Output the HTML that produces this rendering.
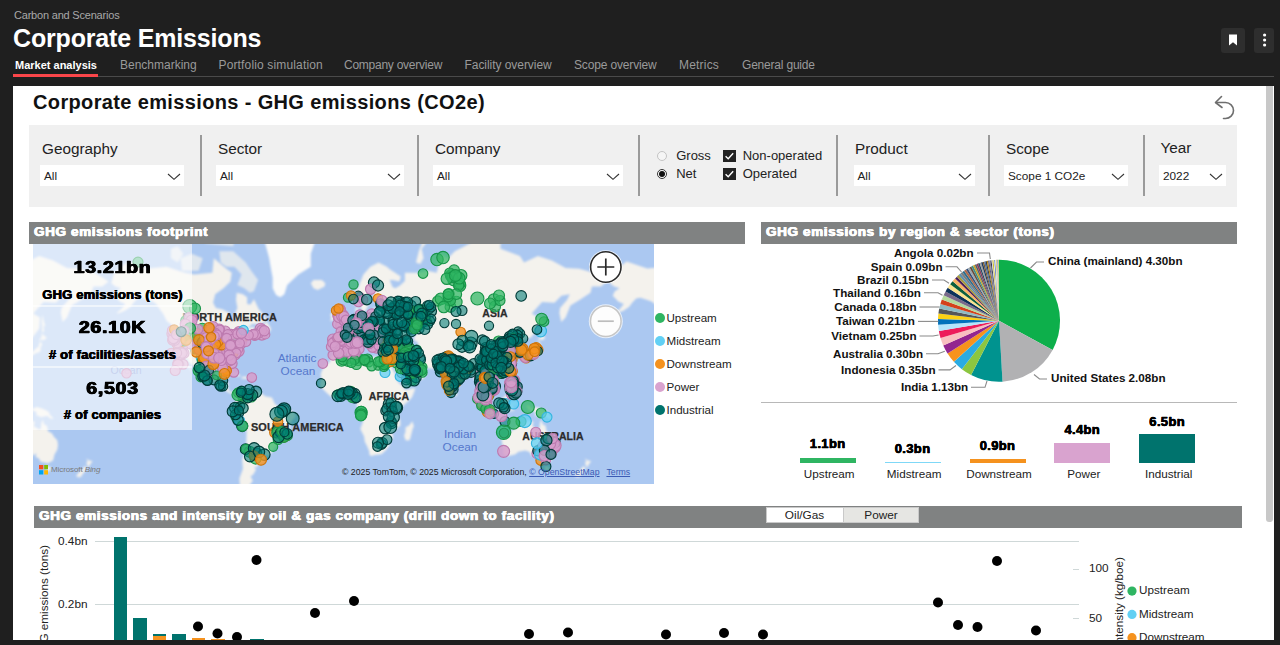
<!DOCTYPE html>
<html>
<head>
<meta charset="utf-8">
<title>Corporate Emissions</title>
<style>
*{box-sizing:border-box;margin:0;padding:0}
html,body{width:1280px;height:645px;overflow:hidden;background:#1f1f1f;font-family:"Liberation Sans",sans-serif;}
.abs{position:absolute}
.t{position:absolute;white-space:nowrap;line-height:1}
#crumb{left:14px;top:10px;font-size:11px;color:#a9a9a9;letter-spacing:-.2px}
#h1{left:13px;top:25.5px;font-size:25px;font-weight:bold;color:#fff;letter-spacing:-.17px}
.tab{position:absolute;top:58.5px;font-size:12px;color:#9a9a9a;white-space:nowrap;line-height:1}
.tab.on{color:#fff;font-weight:bold;font-size:11px;top:59.5px}
#tabline{left:14px;top:76px;width:1260px;height:1px;background:#4a4a4a}
#tabred{left:13.4px;top:74.1px;width:84.6px;height:3px;background:#fb464a}
.hbtn{position:absolute;top:27.5px;width:24px;height:25px;background:#2e2e2e;border-radius:3px;overflow:hidden}
.hbtn svg{position:absolute;left:0;top:.5px}
#panel{left:13.4px;top:85.8px;width:1260.8px;height:554.7px;background:#fff;overflow:hidden}
/* everything inside panel uses page coords via offset wrapper */
#in{position:absolute;left:-13.4px;top:-85.8px;width:1280px;height:645px}
#ptitle{left:33px;top:91.8px;font-size:20px;font-weight:bold;color:#111;letter-spacing:.36px}
#filters{left:29px;top:125px;width:1208px;height:82px;background:#f0f0f0}
.flabel{position:absolute;margin-top:1.3px;font-size:15.3px;color:#222;white-space:nowrap;line-height:1}
.dd{position:absolute;margin-top:-.6px;height:21px;background:#fff;font-size:11.8px;color:#222;line-height:22px;padding-left:4px;white-space:nowrap}
.dd svg{position:absolute;right:3px;top:7.5px}
.vdiv{position:absolute;top:135px;width:1.5px;height:61px;background:#9a9a9a;margin-left:.3px}
.shead{position:absolute;height:22px;background:#808282;color:#fff;font-weight:bold;font-size:13.5px;line-height:19px;padding-left:5px;white-space:nowrap;letter-spacing:.63px;-webkit-text-stroke:.25px #fff;text-shadow:.45px 0 0 #fff,-.45px 0 0 #fff}

.radio{position:absolute;width:10px;height:10px;border-radius:50%;border:1px solid #c4c4c4;background:#f5f5f5}
.radio.on{border-color:#333;background:#fff}
.radio.on i{position:absolute;left:1px;top:1px;width:6px;height:6px;border-radius:50%;background:#111}
.rtext{position:absolute;margin-left:-.8px;font-size:13px;color:#222;white-space:nowrap;line-height:16px}
.cb{position:absolute;width:13px;height:12px;background:#222}
.cb svg{position:absolute;left:0;top:0}
.lbl text{font:bold 10.5px "Liberation Sans",sans-serif;fill:#2b2b2b;letter-spacing:.1px;stroke:#2b2b2b;stroke-width:.25px}
.sea text{font:11.8px "Liberation Sans",sans-serif;fill:#5577cc}
.dots circle{stroke-width:1.15}
.u{fill:rgba(47,181,98,.72);stroke:#189548}
.m{fill:rgba(98,208,244,.75);stroke:#35b5e0}
.d{fill:rgba(245,146,30,.8);stroke:#cf7408}
.p{fill:rgba(214,158,203,.85);stroke:#bd7bb0}
.i{fill:rgba(0,122,115,.58);stroke:#003c39}
.kv{position:absolute;left:33px;width:159px;text-align:center;font-size:17.2px;font-weight:bold;color:#000;line-height:1;-webkit-text-stroke:.55px #000;text-shadow:.5px 0 0 #000,-.5px 0 0 #000;letter-spacing:.6px;transform:scaleX(1.14);margin-top:2.5px}
.kl{position:absolute;left:23px;width:179px;text-align:center;font-size:13px;font-weight:bold;color:#000;line-height:1;-webkit-text-stroke:.2px #000;text-shadow:.35px 0 0 #000,-.35px 0 0 #000;white-space:nowrap;letter-spacing:.2px}
.pl text{font:bold 11.65px "Liberation Sans",sans-serif;fill:#111}
.bv{position:absolute;width:100px;text-align:center;font-size:13px;font-weight:bold;color:#000;line-height:1;-webkit-text-stroke:.3px #000;text-shadow:.25px 0 0 #000,-.25px 0 0 #000;letter-spacing:.35px}
.bl{position:absolute;width:100px;text-align:center;font-size:11.7px;margin-left:1.5px;color:#222;line-height:1}
.tg{position:absolute;top:507px;height:15.5px;font-size:11.8px;line-height:16px;text-align:center;color:#222}
.ax{font-size:11.8px;color:#222;margin-top:.8px}
.rot{font-size:11.7px;color:#222;transform-origin:0 0;transform:rotate(-90deg)}
</style>
</head>
<body>
<div class="t" id="crumb">Carbon and Scenarios</div>
<div class="t" id="h1">Corporate Emissions</div>

<div class="tab on" style="left:15px">Market analysis</div>
<div class="tab" style="left:120px">Benchmarking</div>
<div class="tab" style="left:218.5px;letter-spacing:.15px">Portfolio simulation</div>
<div class="tab" style="left:344px;letter-spacing:-.25px">Company overview</div>
<div class="tab" style="left:464.5px;letter-spacing:-.05px">Facility overview</div>
<div class="tab" style="left:574px;letter-spacing:-.15px">Scope overview</div>
<div class="tab" style="left:679px;letter-spacing:.2px">Metrics</div>
<div class="tab" style="left:742px;letter-spacing:-.2px">General guide</div>
<div class="abs" id="tabline"></div>
<div class="abs" id="tabred"></div>

<div class="hbtn" style="left:1221px"><svg width="24" height="24" viewBox="0 0 24 24"><path d="M8 6.5h8v11l-4-3.2-4 3.2z" fill="#fff"/></svg></div>
<div class="hbtn" style="left:1254px;width:20px"><svg width="24" height="24" viewBox="1.4 0 24 24"><circle cx="12" cy="7" r="1.6" fill="#fff"/><circle cx="12" cy="12" r="1.6" fill="#fff"/><circle cx="12" cy="17" r="1.6" fill="#fff"/></svg></div>

<div class="abs" id="panel"><div id="in">
  <div class="t" id="ptitle">Corporate emissions - GHG emissions (CO2e)</div>
  <div class="abs" id="filters"></div>
  <div class="flabel" style="left:42px;top:140px">Geography</div><div class="dd" style="left:40px;top:166px;width:144px">All<svg width="14" height="8" viewBox="0 0 14 8"><path d="M1 1l6 5.3 6-5.3" fill="none" stroke="#333" stroke-width="1.1"/></svg></div><div class="vdiv" style="left:200px"></div><div class="flabel" style="left:218px;top:140px">Sector</div><div class="dd" style="left:216px;top:166px;width:188px">All<svg width="14" height="8" viewBox="0 0 14 8"><path d="M1 1l6 5.3 6-5.3" fill="none" stroke="#333" stroke-width="1.1"/></svg></div><div class="vdiv" style="left:417px"></div><div class="flabel" style="left:435px;top:140px">Company</div><div class="dd" style="left:433px;top:166px;width:190px">All<svg width="14" height="8" viewBox="0 0 14 8"><path d="M1 1l6 5.3 6-5.3" fill="none" stroke="#333" stroke-width="1.1"/></svg></div><div class="vdiv" style="left:638px"></div><div class="radio" style="left:657px;top:151px"></div><div class="rtext" style="left:677px;top:148px">Gross</div><div class="radio on" style="left:657px;top:169px"><i></i></div><div class="rtext" style="left:677px;top:166px">Net</div><div class="cb" style="left:723px;top:150px"><svg width="13" height="12" viewBox="0 0 13 12"><path d="M2.6 6.2l2.6 2.6 5-5.6" fill="none" stroke="#fff" stroke-width="1.4"/></svg></div><div class="rtext" style="left:743.5px;top:148px">Non-operated</div><div class="cb" style="left:723px;top:168px"><svg width="13" height="12" viewBox="0 0 13 12"><path d="M2.6 6.2l2.6 2.6 5-5.6" fill="none" stroke="#fff" stroke-width="1.4"/></svg></div><div class="rtext" style="left:743.5px;top:166px">Operated</div><div class="vdiv" style="left:836px"></div><div class="flabel" style="left:855px;top:140px">Product</div><div class="dd" style="left:853.5px;top:166px;width:121.5px">All<svg width="14" height="8" viewBox="0 0 14 8"><path d="M1 1l6 5.3 6-5.3" fill="none" stroke="#333" stroke-width="1.1"/></svg></div><div class="vdiv" style="left:988px"></div><div class="flabel" style="left:1006px;top:140px">Scope</div><div class="dd" style="left:1004px;top:166px;width:124px">Scope 1 CO2e<svg width="14" height="8" viewBox="0 0 14 8"><path d="M1 1l6 5.3 6-5.3" fill="none" stroke="#333" stroke-width="1.1"/></svg></div><div class="vdiv" style="left:1143px"></div><div class="flabel" style="left:1160.5px;top:139px">Year</div><div class="dd" style="left:1159px;top:166px;width:67px">2022<svg width="14" height="8" viewBox="0 0 14 8"><path d="M1 1l6 5.3 6-5.3" fill="none" stroke="#333" stroke-width="1.1"/></svg></div>
  <div class="shead" style="left:29px;top:222px;width:716px">GHG emissions footprint</div><svg class="abs" style="left:33px;top:243.5px" width="621" height="240" viewBox="33 243.5 621 240">
<defs><filter id="bl" x="-5%" y="-5%" width="110%" height="110%"><feGaussianBlur stdDeviation="1.1"/></filter>
<filter id="bl2"><feGaussianBlur stdDeviation="0.45"/></filter></defs>
<rect x="33" y="243.5" width="621" height="240" fill="#abc8f1"/>
<g filter="url(#bl)"><path d="M111.3 282.8L114.1 272.2L127.9 260.9L148.7 267.9L166.7 266.3L184.7 272.2L194.4 274.0L212.4 272.2L213.8 257.8L226.3 268.3L231.8 272.2L230.4 281.1L223.5 287.7L215.2 293.8L213.1 302.2L215.9 307.5L222.1 308.7L229.7 312.4L230.4 318.3L233.9 320.5L234.6 313.6L237.4 307.5L236.0 299.5L236.7 292.3L242.9 293.8L247.1 296.7L247.1 303.6L250.5 304.1L254.0 298.7L258.8 308.7L264.4 314.8L266.9 319.4L260.9 323.4L251.9 323.4L247.7 328.0L254.0 325.9L254.7 330.1L259.5 332.1L255.4 334.1L252.6 337.0L251.2 334.1L247.1 336.6L246.1 339.8L241.5 342.4L239.4 347.0L238.7 351.3L234.6 354.7L231.4 358.8L233.2 365.1L232.5 367.9L230.7 366.7L229.5 363.6L227.7 360.4L224.9 359.9L220.7 360.1L219.3 362.0L213.8 361.2L209.7 363.9L209.0 368.2L208.5 372.0L210.3 376.5L213.1 378.4L217.3 377.9L218.7 374.2L223.5 373.5L222.8 377.9L221.4 381.5L227.7 381.8L228.6 383.7L228.4 388.7L230.4 391.5L233.9 390.8L236.7 392.2L235.3 393.6L233.2 393.9L231.1 392.9L229.0 392.5L225.6 390.1L224.9 388.0L222.8 385.8L217.3 384.4L213.8 381.5L210.3 382.0L205.5 380.1L200.0 377.9L197.9 375.0L198.2 372.8L194.4 368.2L191.7 364.4L188.2 361.2L187.2 358.3L185.0 357.7L185.4 360.4L187.9 364.4L191.7 369.7L192.3 371.3L188.9 367.5L185.4 363.6L183.6 360.4L181.8 356.4L179.9 353.9L177.0 353.0L175.0 349.6L172.5 344.4L171.8 339.8L172.3 332.1L171.3 327.2L173.6 327.0L173.6 325.9L170.9 323.8L166.7 320.5L163.3 313.6L159.8 308.7L156.3 303.6L152.9 300.9L148.7 299.5L141.8 297.2L137.6 298.1L133.5 302.2L130.7 306.2L125.2 310.0L119.6 312.4L116.2 313.1L121.0 308.7L125.2 303.6L119.6 300.9L116.9 298.1L114.1 295.2L116.2 290.8L121.0 287.7L115.5 286.1ZM609.9 282.8L612.7 272.2L626.5 260.9L647.3 267.9L665.3 266.3L683.3 272.2L693.0 274.0L711.0 272.2L712.4 257.8L724.9 268.3L730.4 272.2L729.0 281.1L722.1 287.7L713.8 293.8L711.7 302.2L714.5 307.5L720.7 308.7L728.3 312.4L729.0 318.3L732.5 320.5L733.2 313.6L736.0 307.5L734.6 299.5L735.3 292.3L741.5 293.8L745.6 296.7L745.6 303.6L749.1 304.1L752.6 298.7L757.4 308.7L763.0 314.8L765.5 319.4L759.5 323.4L750.5 323.4L746.3 328.0L752.6 325.9L753.3 330.1L758.1 332.1L754.0 334.1L751.2 337.0L749.8 334.1L745.6 336.6L744.7 339.8L740.1 342.4L738.0 347.0L737.3 351.3L733.2 354.7L730.0 358.8L731.8 365.1L731.1 367.9L729.3 366.7L728.1 363.6L726.3 360.4L723.5 359.9L719.3 360.1L718.0 362.0L712.4 361.2L708.3 363.9L707.6 368.2L707.1 372.0L708.9 376.5L711.7 378.4L715.9 377.9L717.3 374.2L722.1 373.5L721.4 377.9L720.0 381.5L726.3 381.8L727.2 383.7L727.0 388.7L729.0 391.5L732.5 390.8L735.3 392.2L733.9 393.6L731.8 393.9L729.7 392.9L727.6 392.5L724.2 390.1L723.5 388.0L721.4 385.8L715.9 384.4L712.4 381.5L708.9 382.0L704.1 380.1L698.6 377.9L696.5 375.0L696.8 372.8L693.0 368.2L690.2 364.4L686.8 361.2L685.8 358.3L683.6 357.7L684.0 360.4L686.5 364.4L690.2 369.7L690.9 371.3L687.5 367.5L684.0 363.6L682.2 360.4L680.4 356.4L678.5 353.9L675.6 353.0L673.6 349.6L671.1 344.4L670.4 339.8L670.9 332.1L669.9 327.2L672.2 327.0L672.2 325.9L669.5 323.8L665.3 320.5L661.9 313.6L658.4 308.7L654.9 303.6L651.5 300.9L647.3 299.5L640.4 297.2L636.2 298.1L632.1 302.2L629.3 306.2L623.8 310.0L618.2 312.4L614.8 313.1L619.6 308.7L623.8 303.6L618.2 300.9L615.5 298.1L612.7 295.2L614.8 290.8L619.6 287.7L614.1 286.1ZM236.9 392.2L239.4 389.4L244.3 387.3L249.8 388.0L255.4 389.4L258.8 389.4L260.9 392.2L265.1 395.7L272.0 397.1L274.8 403.3L277.5 405.4L283.1 407.5L288.6 408.2L292.8 410.9L295.5 413.7L295.5 416.5L292.8 419.3L290.0 423.6L290.0 429.4L287.2 435.2L283.1 436.7L277.5 440.5L276.6 444.4L272.0 451.6L269.2 455.0L265.1 455.0L263.0 454.1L265.1 458.4L264.4 461.0L258.1 462.7L257.4 466.4L254.0 466.4L256.1 469.1L253.3 473.9L250.5 475.9L252.9 480.0L248.4 486.4L249.1 489.7L254.0 494.9L249.8 496.8L244.3 493.2L240.1 488.6L239.4 477.9L242.9 468.2L242.2 459.2L245.0 450.8L246.4 439.8L246.6 430.1L238.7 423.6L236.7 419.3L233.9 414.4L231.4 410.9L233.2 408.2L232.1 405.4L233.2 402.6L235.3 401.2L237.1 398.5L236.7 394.3ZM-167.1 348.8L-167.8 345.3L-166.8 337.9L-157.1 337.2L-156.3 332.1L-161.1 327.2L-156.7 326.6L-154.6 324.9L-151.8 321.6L-149.1 319.4L-147.7 316.4L-142.8 314.8L-143.2 307.5L-140.1 305.7L-140.8 312.4L-138.0 314.3L-135.2 314.8L-129.0 313.1L-125.5 312.4L-125.5 307.5L-121.4 306.9L-122.1 302.2L-115.8 300.9L-113.1 299.5L-122.7 299.5L-125.1 296.7L-124.8 290.8L-120.0 283.5L-124.1 281.8L-125.5 286.1L-130.4 293.8L-130.8 298.1L-128.6 300.9L-131.7 307.5L-132.7 310.0L-134.9 311.4L-136.6 311.2L-137.3 308.7L-139.1 302.2L-140.1 301.4L-143.5 304.9L-147.0 302.2L-147.7 293.8L-140.8 287.7L-135.2 274.0L-128.3 266.3L-120.0 262.1L-111.7 266.3L-108.9 268.7L-97.8 275.9L-99.2 281.1L-106.1 279.4L-108.9 279.4L-106.1 286.4L-103.4 287.7L-99.2 285.4L-93.7 280.4L-93.7 272.2L-79.8 272.2L-71.5 270.2L-61.8 272.2L-59.7 262.1L-59.0 253.2L-50.7 257.8L-43.8 250.8L-34.1 245.7L-18.9 237.6L-10.6 227.2L1.9 237.6L1.9 248.3L21.3 255.5L25.4 262.1L39.3 255.5L53.1 260.0L67.0 267.5L80.9 268.3L94.7 272.2L108.6 281.1L102.3 286.1L93.3 286.1L91.9 292.3L80.9 299.5L71.8 304.9L69.8 310.0L67.0 317.1L62.6 321.6L60.8 312.4L61.5 307.5L68.4 299.5L71.2 293.8L62.8 295.2L55.9 302.2L43.5 301.4L33.1 313.1L40.0 317.1L39.3 328.0L32.4 337.0L26.6 338.9L22.0 343.8L24.6 348.8L24.1 351.9L20.6 353.0L20.6 347.9L18.1 344.0L13.7 345.3L14.8 342.6L8.8 345.3L10.2 348.2L15.1 348.8L10.6 352.2L14.1 358.0L14.1 362.0L10.9 367.5L6.8 371.3L2.6 372.5L-1.6 373.8L-5.0 373.3L-8.1 376.5L-3.9 382.3L-3.2 387.3L-6.4 389.5L-9.2 391.9L-9.5 390.1L-12.6 387.3L-14.9 385.4L-16.1 386.5L-17.2 390.1L-15.7 392.9L-14.4 394.6L-11.4 398.5L-10.3 402.1L-11.4 402.2L-14.3 400.1L-15.7 396.4L-18.5 392.9L-18.0 390.1L-19.3 381.1L-22.6 381.8L-24.0 379.4L-25.8 375.7L-27.6 372.0L-31.3 373.1L-34.1 373.8L-36.9 376.2L-40.6 380.8L-43.5 382.3L-43.5 385.8L-44.1 389.7L-46.3 391.6L-47.3 392.9L-48.9 390.4L-51.0 385.8L-52.8 381.5L-53.8 376.9L-54.0 373.9L-57.0 374.5L-59.0 372.3L-61.4 368.5L-68.7 367.9L-75.2 367.1L-76.3 365.0L-83.3 363.9L-85.4 360.1L-88.1 360.4L-87.2 362.8L-85.1 365.9L-83.3 367.5L-83.1 369.3L-79.8 369.4L-76.6 366.7L-76.1 369.0L-73.3 370.5L-71.8 372.2L-74.5 377.2L-78.1 379.4L-82.3 381.5L-87.2 384.4L-92.3 386.1L-94.4 386.3L-95.5 383.0L-97.8 377.9L-100.6 373.5L-102.9 368.2L-106.1 363.6L-106.3 361.2L-106.8 363.6L-108.1 363.1L-109.4 360.4L-109.9 358.5L-107.2 358.3L-106.1 355.5L-104.7 350.5L-104.7 349.1L-109.6 350.3L-112.4 350.0L-115.8 349.3L-116.8 347.9L-118.2 344.5L-117.6 342.7L-114.4 341.6L-111.7 341.3L-106.1 339.8L-102.0 341.6L-97.1 340.7L-97.1 338.5L-99.9 336.4L-102.9 334.1L-101.6 331.5L-100.2 329.7L-106.1 331.5L-108.1 335.0L-109.6 333.1L-108.2 331.7L-112.1 331.1L-114.7 335.0L-116.1 338.9L-114.9 341.3L-118.2 342.0L-121.4 342.0L-123.0 342.9L-121.4 347.0L-122.7 349.6L-124.5 349.1L-125.5 345.3L-127.6 342.6L-127.6 339.8L-132.4 337.0L-135.6 333.1L-137.6 333.5L-137.3 336.0L-135.2 338.9L-132.4 340.2L-129.0 343.1L-131.1 342.6L-131.7 345.3L-132.9 347.0L-132.4 343.5L-137.3 340.7L-140.2 337.9L-142.4 335.2L-144.2 336.4L-148.4 337.2L-150.2 338.3L-150.2 340.2L-153.9 342.6L-155.0 345.3L-154.6 345.8L-157.4 349.1L-161.9 350.3L-163.3 349.5L-164.8 348.4ZM331.5 348.8L330.8 345.3L331.8 337.9L341.5 337.2L342.3 332.1L337.5 327.2L341.9 326.6L344.0 324.9L346.8 321.6L349.5 319.4L350.9 316.4L355.8 314.8L355.4 307.5L358.5 305.7L357.9 312.4L360.6 314.3L363.4 314.8L369.6 313.1L373.1 312.4L373.1 307.5L377.2 306.9L376.5 302.2L382.8 300.9L385.6 299.5L375.9 299.5L373.5 296.7L373.8 290.8L378.6 283.5L374.5 281.8L373.1 286.1L368.2 293.8L367.8 298.1L370.0 300.9L366.9 307.5L365.9 310.0L363.7 311.4L362.0 311.2L361.3 308.7L359.5 302.2L358.5 301.4L355.1 304.9L351.6 302.2L350.9 293.8L357.9 287.7L363.4 274.0L370.3 266.3L378.6 262.1L386.9 266.3L389.7 268.7L400.8 275.9L399.4 281.1L392.5 279.4L389.7 279.4L392.5 286.4L395.2 287.7L399.4 285.4L404.9 280.4L404.9 272.2L418.8 272.2L427.1 270.2L436.8 272.2L438.9 262.1L439.6 253.2L447.9 257.8L454.8 250.8L464.5 245.7L479.7 237.6L488.0 227.2L500.5 237.6L500.5 248.3L519.9 255.5L524.0 262.1L537.9 255.5L551.8 260.0L565.6 267.5L579.5 268.3L593.3 272.2L607.1 281.1L600.9 286.1L591.9 286.1L590.5 292.3L579.5 299.5L570.4 304.9L568.4 310.0L565.6 317.1L561.2 321.6L559.4 312.4L560.1 307.5L567.0 299.5L569.8 293.8L561.4 295.2L554.5 302.2L542.1 301.4L531.7 313.1L538.6 317.1L537.9 328.0L531.0 337.0L525.2 338.9L520.6 343.8L523.2 348.8L522.7 351.9L519.2 353.0L519.2 347.9L516.7 344.0L512.3 345.3L513.4 342.6L507.4 345.3L508.8 348.2L513.7 348.8L509.2 352.2L512.7 358.0L512.7 362.0L509.5 367.5L505.4 371.3L501.2 372.5L497.0 373.8L493.6 373.3L490.5 376.5L494.7 382.3L495.4 387.3L492.2 389.5L489.4 391.9L489.1 390.1L486.0 387.3L483.7 385.4L482.5 386.5L481.4 390.1L482.9 392.9L484.2 394.6L487.2 398.5L488.3 402.1L487.2 402.2L484.3 400.1L482.9 396.4L480.1 392.9L480.6 390.1L479.3 381.1L476.0 381.8L474.6 379.4L472.8 375.7L471.0 372.0L467.3 373.1L464.5 373.8L461.7 376.2L458.0 380.8L455.1 382.3L455.1 385.8L454.5 389.7L452.3 391.6L451.3 392.9L449.7 390.4L447.6 385.8L445.8 381.5L444.8 376.9L444.6 373.9L441.6 374.5L439.6 372.3L437.2 368.5L429.9 367.9L423.4 367.1L422.3 365.0L415.3 363.9L413.2 360.1L410.5 360.4L411.4 362.8L413.5 365.9L415.3 367.5L415.5 369.3L418.8 369.4L422.0 366.7L422.5 369.0L425.3 370.5L426.8 372.2L424.1 377.2L420.5 379.4L416.3 381.5L411.4 384.4L406.3 386.1L404.2 386.3L403.1 383.0L400.8 377.9L398.0 373.5L395.7 368.2L392.5 363.6L392.3 361.2L391.8 363.6L390.5 363.1L389.2 360.4L388.7 358.5L391.4 358.3L392.5 355.5L393.9 350.5L393.9 349.1L389.0 350.3L386.2 350.0L382.8 349.3L381.8 347.9L380.4 344.5L381.0 342.7L384.2 341.6L386.9 341.3L392.5 339.8L396.6 341.6L401.5 340.7L401.5 338.5L398.7 336.4L395.7 334.1L397.0 331.5L398.4 329.7L392.5 331.5L390.5 335.0L389.0 333.1L390.4 331.7L386.5 331.1L383.9 335.0L382.5 338.9L383.7 341.3L380.4 342.0L377.2 342.0L375.6 342.9L377.2 347.0L375.9 349.6L374.1 349.1L373.1 345.3L371.0 342.6L371.0 339.8L366.2 337.0L363.0 333.1L361.0 333.5L361.3 336.0L363.4 338.9L366.2 340.2L369.6 343.1L367.5 342.6L366.9 345.3L365.7 347.0L366.2 343.5L361.3 340.7L358.4 337.9L356.2 335.2L354.4 336.4L350.2 337.2L348.4 338.3L348.4 340.2L344.7 342.6L343.6 345.3L344.0 345.8L341.2 349.1L336.7 350.3L335.3 349.5L333.8 348.4ZM335.8 350.8L342.6 351.9L348.2 348.9L357.9 348.2L359.2 349.1L358.1 353.5L359.5 355.2L365.2 356.7L371.7 359.1L371.7 356.4L375.9 356.0L378.6 357.8L384.2 359.0L388.7 358.5L389.2 360.4L390.4 363.9L393.2 369.7L395.5 374.2L395.9 377.9L398.7 382.3L403.6 386.5L404.0 388.0L405.6 389.4L414.6 387.5L414.9 389.5L411.9 397.1L407.7 401.2L402.2 406.1L398.7 410.5L398.0 413.0L398.7 417.9L400.2 419.3L400.4 425.0L394.6 430.1L392.2 432.3L393.2 437.5L389.4 441.3L389.4 445.2L385.6 450.0L381.4 453.8L374.5 454.5L371.7 455.5L369.5 454.5L369.2 450.8L366.9 445.2L364.8 441.3L364.1 436.0L360.3 428.6L363.1 420.7L362.3 416.5L360.9 412.3L356.5 405.4L357.2 400.5L357.4 398.7L355.8 397.8L353.7 397.9L350.2 395.3L345.4 395.7L341.2 397.3L337.8 396.8L333.6 397.9L330.8 396.0L326.0 391.8L323.2 388.7L320.7 386.5L319.8 383.4L321.4 377.2L320.5 374.2L321.8 370.2L323.9 366.4L326.0 363.9L330.1 361.2L330.4 358.0L332.2 355.0L334.6 353.9ZM412.3 420.7L413.9 425.7L412.6 428.6L410.2 438.3L409.1 440.1L405.6 439.8L404.0 435.2L405.4 431.5L405.6 426.7L409.1 425.0ZM336.1 323.8L345.9 321.2L346.4 317.8L344.0 316.0L341.9 312.4L341.2 310.0L341.5 306.2L338.5 305.7L339.8 303.3L337.1 303.3L335.4 308.7L337.1 312.4L339.8 314.8L337.5 316.4L338.2 318.3L336.7 319.8L339.8 320.5ZM330.1 320.5L335.3 318.9L335.7 314.8L336.4 312.4L332.9 311.7L330.1 314.3L331.5 317.1ZM310.8 282.8L313.5 287.7L317.7 289.5L324.6 286.1L325.3 282.8L321.8 279.4L313.5 279.4ZM25.4 358.5L27.5 358.0L28.2 354.7L33.1 354.7L35.1 352.9L37.9 352.2L40.4 351.0L40.7 346.5L42.1 344.4L41.2 340.9L39.3 342.6L38.6 346.1L35.1 348.8L33.8 350.5L29.6 351.3L26.8 353.4L25.0 355.0ZM524.0 358.5L526.1 358.0L526.8 354.7L531.7 354.7L533.7 352.9L536.5 352.2L539.0 351.0L539.3 346.5L540.7 344.4L539.8 340.9L537.9 342.6L537.2 346.1L533.7 348.8L532.4 350.5L528.2 351.3L525.4 353.4L523.6 355.0ZM39.3 340.7L41.0 338.9L43.9 339.8L46.9 337.3L45.3 336.0L41.8 333.1L41.4 337.0L39.3 338.9ZM537.9 340.7L539.6 338.9L542.5 339.8L545.5 337.3L543.9 336.0L540.4 333.1L540.0 337.0L537.9 338.9ZM42.1 332.1L44.1 331.1L43.5 324.9L45.5 325.9L43.5 319.4L42.8 314.1L41.7 319.4L42.1 328.0ZM540.7 332.1L542.7 331.1L542.1 324.9L544.1 325.9L542.1 319.4L541.4 314.1L540.3 319.4L540.7 328.0ZM510.2 371.3L511.3 372.8L512.3 370.5L513.0 368.2L511.6 367.9ZM494.5 376.7L495.7 378.4L497.0 377.5L497.7 376.0L496.4 375.6ZM510.9 377.9L513.2 377.9L513.0 381.5L515.7 385.8L515.7 386.5L513.7 384.7L511.3 384.4L510.2 381.5ZM513.0 394.3L515.7 395.7L517.8 396.0L519.2 394.3L518.5 390.8L516.4 392.2L515.0 392.2ZM513.0 390.1L514.4 391.1L515.7 389.8L517.8 388.7L517.1 386.5L514.4 388.0ZM495.0 401.9L496.4 406.1L498.4 408.2L502.6 409.5L505.4 408.9L506.7 403.3L507.4 400.5L508.8 397.1L506.0 394.3L504.7 395.7L500.5 399.8L497.7 401.2ZM476.0 396.2L479.0 396.8L483.2 400.8L487.3 404.0L488.7 406.8L490.8 408.2L490.8 412.0L488.7 412.0L485.3 409.5L483.2 406.1L480.7 401.9L478.3 399.8ZM489.7 413.4L491.5 412.3L494.3 413.0L497.7 413.0L500.5 413.7L502.6 414.8L502.3 416.0L497.7 415.5L493.6 414.8L491.5 414.3ZM509.5 411.6L510.6 408.2L509.5 405.1L510.2 402.9L513.0 402.6L517.1 401.9L515.7 403.6L511.6 403.4L510.9 405.2L514.1 405.2L512.3 406.8L513.7 408.9L513.7 410.9L512.3 410.2L511.6 407.9L510.9 411.6ZM26.8 405.1L31.0 405.1L32.4 408.6L36.5 406.4L40.7 407.6L46.2 409.8L49.7 412.3L49.0 413.3L53.8 418.3L50.4 418.2L47.6 415.4L44.1 416.1L40.7 416.8L37.9 415.1L36.5 415.5L36.5 411.6L32.4 410.1L29.3 409.5L29.6 407.5ZM525.4 405.1L529.6 405.1L531.0 408.6L535.1 406.4L539.3 407.6L544.8 409.8L548.3 412.3L547.6 413.3L552.4 418.3L549.0 418.2L546.2 415.4L542.7 416.1L539.3 416.8L536.5 415.1L535.1 415.5L535.1 411.6L531.0 410.1L527.9 409.5L528.2 407.5ZM454.5 392.2L455.1 390.5L457.3 393.6L456.9 395.3L455.1 395.7ZM2.6 435.2L3.3 441.3L4.7 447.6L4.7 454.1L8.8 455.8L16.4 454.1L19.9 451.3L26.8 450.0L31.0 451.6L33.1 455.5L36.3 452.5L35.8 456.7L38.6 457.5L40.7 461.3L44.8 461.9L48.0 462.7L53.1 460.1L54.5 454.1L57.3 449.2L58.0 444.4L57.3 439.8L54.3 436.7L51.8 432.7L48.0 430.8L46.9 425.0L44.1 423.9L42.8 419.0L41.4 422.2L40.7 428.6L38.6 428.6L33.8 425.7L34.9 421.2L29.6 420.0L26.8 421.2L24.8 425.0L21.3 423.6L19.2 424.3L16.4 428.3L14.4 429.4L10.2 432.3L6.1 433.8ZM501.2 435.2L501.9 441.3L503.3 447.6L503.3 454.1L507.4 455.8L515.0 454.1L518.5 451.3L525.4 450.0L529.6 451.6L531.7 455.5L534.9 452.5L534.4 456.7L537.2 457.5L539.3 461.3L543.4 461.9L546.6 462.7L551.8 460.1L553.1 454.1L555.9 449.2L556.6 444.4L555.9 439.8L552.9 436.7L550.4 432.7L546.6 430.8L545.5 425.0L542.7 423.9L541.4 419.0L540.0 422.2L539.3 428.6L537.2 428.6L532.4 425.7L533.5 421.2L528.2 420.0L525.4 421.2L523.4 425.0L519.9 423.6L517.8 424.3L515.0 428.3L513.0 429.4L508.8 432.3L504.7 433.8ZM45.8 465.8L50.4 466.0L50.8 468.2L49.0 471.0L47.6 471.0L46.2 468.2ZM544.4 465.8L549.0 466.0L549.4 468.2L547.6 471.0L546.2 471.0L544.8 468.2ZM84.6 455.0L87.1 458.4L89.2 460.1L92.6 460.4L90.5 463.6L88.2 467.5L87.5 464.5L86.1 463.3L87.5 461.0L86.4 457.5ZM583.2 455.0L585.7 458.4L587.8 460.1L591.2 460.4L589.1 463.6L586.8 467.5L586.1 464.5L584.7 463.3L586.1 461.0L585.0 457.5ZM84.6 465.4L86.8 467.3L84.7 471.6L82.2 473.9L81.5 475.9L78.8 477.1L76.0 475.5L78.8 472.0L82.2 469.1ZM583.2 465.4L585.4 467.3L583.3 471.6L580.8 473.9L580.1 475.9L577.4 477.1L574.6 475.5L577.4 472.0L580.8 469.1ZM226.3 372.8L230.4 371.3L234.6 372.0L240.1 374.7L241.2 375.4L236.7 375.9L236.0 374.2L230.4 372.8ZM240.8 377.9L243.2 375.9L247.1 376.2L249.1 377.9L245.7 378.6ZM416.0 262.1L420.2 263.4L423.6 257.8L421.6 248.3L429.9 237.6L438.2 232.9L435.4 230.4L424.3 237.6L418.8 250.8ZM261.9 328.6L266.4 330.5L270.6 330.7L271.0 328.0L269.2 324.9L266.4 320.5L264.4 323.8ZM360.6 225.2L371.7 232.9L378.6 225.2L374.5 210.7L360.6 210.7Z" fill="#f4f2ed"/><path d="M242.9 225.2L252.6 237.6L263.7 237.6L269.2 257.8L270.6 266.3L272.7 277.6L272.7 287.7L276.1 294.4L280.3 296.7L284.4 293.8L287.2 284.5L298.3 274.0L310.8 266.3L310.8 253.2L316.3 237.6L316.3 210.7L302.4 182.3L260.9 182.3Z" fill="#fbfbfa"/><path d="M233.2 250.8L245.7 262.1L251.2 270.2L258.1 279.4L254.0 290.8L249.8 292.3L244.3 287.7L237.4 284.5L241.5 274.0L234.6 266.3L226.3 266.3L220.7 262.1L219.3 250.8ZM182.0 270.2L198.6 270.2L202.7 257.8L191.7 253.2L180.6 257.8ZM170.9 257.8L177.8 262.1L183.3 253.2L177.8 245.7L170.9 248.3ZM205.5 243.1L233.2 245.7L236.0 231.6L247.1 210.7L219.3 192.9L198.6 225.2Z" fill="#f4f2ed" opacity=".72"/><path d="M409.1 333.1L412.6 331.1L417.4 331.1L416.7 334.1L414.6 335.0L413.9 339.8L416.7 340.7L418.5 343.5L418.1 348.8L414.6 349.3L411.9 347.9L412.6 342.9L409.8 337.9ZM216.6 330.5L222.1 327.0L226.3 328.4L226.6 331.1L223.5 331.1L219.3 330.7ZM222.4 339.8L224.5 339.8L225.6 334.1L227.0 332.1L223.5 332.7ZM227.0 332.1L231.1 332.1L233.2 334.4L230.8 337.5L229.7 337.5L228.4 335.0ZM228.6 340.3L234.6 338.3L238.3 337.0L238.0 335.6L233.9 336.6L229.0 339.2Z" fill="#abc8f1"/></g>
<g class="lbl">
<text x="277" y="320" text-anchor="end" style="font-size:11px">NORTH AMERICA</text>
<text x="297.4" y="430.5" text-anchor="middle" style="font-size:10.9px">SOUTH AMERICA</text>
<text x="389" y="399.5" text-anchor="middle">AFRICA</text>
<text x="495" y="316" text-anchor="middle">ASIA</text>
<text x="553" y="439.5" text-anchor="middle">AUSTRALIA</text>
</g>
<g class="sea">
<text x="297" y="361" text-anchor="middle">Atlantic</text><text x="298" y="374.5" text-anchor="middle">Ocean</text>
<text x="460" y="437" text-anchor="middle">Indian</text><text x="460" y="450.5" text-anchor="middle">Ocean</text>
<text x="126" y="373.5" text-anchor="middle" style="font-size:10.5px;fill:#7b94d6">Ocean</text>
</g>
<g class="dots" filter="url(#bl2)"><circle class="u" cx="418.8" cy="365.1" r="4.6"/><circle class="u" cx="360.0" cy="358.1" r="4.6"/><circle class="u" cx="400.4" cy="348.1" r="5.3"/><circle class="u" cx="413.3" cy="364.3" r="4.7"/><circle class="u" cx="488.5" cy="394.4" r="5.5"/><circle class="u" cx="241.4" cy="391.5" r="5.5"/><circle class="u" cx="448.6" cy="299.4" r="5.5"/><circle class="u" cx="498.6" cy="340.6" r="5.1"/><circle class="u" cx="482.3" cy="362.8" r="4.6"/><circle class="u" cx="437.7" cy="300.5" r="5.1"/><circle class="u" cx="521.0" cy="421.0" r="5.0"/><circle class="u" cx="459.8" cy="285.0" r="6.0"/><circle class="u" cx="416.8" cy="349.2" r="4.6"/><circle class="u" cx="497.8" cy="367.7" r="4.6"/><circle class="u" cx="423.0" cy="273.0" r="4.8"/><circle class="u" cx="477.9" cy="398.2" r="5.3"/><circle class="u" cx="504.8" cy="342.6" r="5.2"/><circle class="u" cx="350.7" cy="391.0" r="5.2"/><circle class="u" cx="410.9" cy="358.9" r="5.2"/><circle class="u" cx="422.5" cy="321.9" r="4.7"/><circle class="u" cx="501.4" cy="352.6" r="5.2"/><circle class="u" cx="450.5" cy="306.4" r="5.4"/><circle class="u" cx="494.0" cy="299.0" r="5.8"/><circle class="u" cx="493.8" cy="357.6" r="5.0"/><circle class="u" cx="401.5" cy="354.8" r="4.6"/><circle class="u" cx="203.3" cy="358.9" r="5.5"/><circle class="u" cx="204.5" cy="373.4" r="4.6"/><circle class="p" cx="191.8" cy="317.5" r="5.2"/><circle class="p" cx="177.6" cy="362.6" r="4.6"/><circle class="p" cx="549.7" cy="445.1" r="5.1"/><circle class="p" cx="227.9" cy="339.7" r="4.8"/><circle class="u" cx="367.5" cy="358.6" r="5.1"/><circle class="u" cx="249.6" cy="451.3" r="5.5"/><circle class="p" cx="503.6" cy="450.8" r="6.0"/><circle class="u" cx="414.9" cy="366.9" r="5.4"/><circle class="p" cx="209.7" cy="351.2" r="5.4"/><circle class="p" cx="490.7" cy="375.0" r="5.5"/><circle class="p" cx="229.9" cy="353.7" r="5.4"/><circle class="u" cx="185.6" cy="320.1" r="4.8"/><circle class="u" cx="384.4" cy="363.6" r="4.9"/><circle class="p" cx="335.9" cy="342.8" r="5.6"/><circle class="p" cx="222.1" cy="355.6" r="4.9"/><circle class="u" cx="411.6" cy="379.9" r="5.3"/><circle class="p" cx="334.6" cy="341.3" r="4.8"/><circle class="p" cx="339.9" cy="309.7" r="5.6"/><circle class="u" cx="138.0" cy="261.6" r="5.0"/><circle class="p" cx="198.8" cy="337.2" r="5.1"/><circle class="p" cx="238.9" cy="330.7" r="4.7"/><circle class="p" cx="345.1" cy="327.2" r="4.8"/><circle class="p" cx="492.1" cy="383.1" r="5.4"/><circle class="p" cx="184.0" cy="339.3" r="5.6"/><circle class="p" cx="343.9" cy="341.2" r="5.1"/><circle class="u" cx="238.4" cy="392.2" r="4.9"/><circle class="u" cx="389.8" cy="354.0" r="4.6"/><circle class="p" cx="231.1" cy="334.0" r="5.1"/><circle class="u" cx="203.5" cy="371.3" r="5.1"/><circle class="u" cx="202.3" cy="327.7" r="5.0"/><circle class="p" cx="514.6" cy="386.6" r="5.8"/><circle class="p" cx="521.5" cy="347.1" r="4.8"/><circle class="u" cx="174.3" cy="337.1" r="4.9"/><circle class="p" cx="216.7" cy="356.5" r="5.4"/><circle class="p" cx="358.4" cy="341.2" r="4.8"/><circle class="p" cx="358.8" cy="348.4" r="5.3"/><circle class="p" cx="372.7" cy="336.2" r="4.9"/><circle class="p" cx="491.0" cy="385.1" r="5.4"/><circle class="u" cx="349.2" cy="357.5" r="5.5"/><circle class="p" cx="551.3" cy="452.0" r="5.4"/><circle class="u" cx="414.6" cy="314.8" r="4.8"/><circle class="p" cx="489.2" cy="378.8" r="5.8"/><circle class="u" cx="358.1" cy="360.1" r="5.0"/><circle class="u" cx="483.2" cy="359.3" r="5.2"/><circle class="d" cx="216.9" cy="352.3" r="4.8"/><circle class="p" cx="333.1" cy="354.6" r="5.1"/><circle class="p" cx="222.9" cy="369.0" r="4.8"/><circle class="d" cx="229.8" cy="357.3" r="5.2"/><circle class="p" cx="379.6" cy="332.4" r="4.7"/><circle class="u" cx="450.9" cy="274.9" r="5.5"/><circle class="m" cx="201.0" cy="357.0" r="4.8"/><circle class="p" cx="214.1" cy="332.6" r="5.5"/><circle class="p" cx="374.3" cy="332.6" r="5.6"/><circle class="p" cx="244.6" cy="336.2" r="4.9"/><circle class="p" cx="209.8" cy="361.0" r="5.2"/><circle class="u" cx="354.9" cy="357.0" r="4.8"/><circle class="u" cx="287.2" cy="435.0" r="5.2"/><circle class="m" cx="551.8" cy="446.1" r="5.8"/><circle class="d" cx="399.9" cy="349.8" r="4.8"/><circle class="u" cx="405.8" cy="360.6" r="5.0"/><circle class="d" cx="338.9" cy="317.6" r="4.9"/><circle class="u" cx="452.0" cy="274.2" r="5.5"/><circle class="u" cx="412.5" cy="364.5" r="5.4"/><circle class="u" cx="378.3" cy="365.0" r="4.7"/><circle class="p" cx="365.9" cy="317.6" r="5.6"/><circle class="u" cx="200.8" cy="376.5" r="4.8"/><circle class="p" cx="208.9" cy="353.2" r="5.4"/><circle class="p" cx="486.6" cy="396.2" r="5.3"/><circle class="u" cx="414.0" cy="313.3" r="4.5"/><circle class="m" cx="524.8" cy="420.6" r="6.5"/><circle class="p" cx="238.4" cy="347.5" r="4.8"/><circle class="u" cx="419.8" cy="322.9" r="5.0"/><circle class="p" cx="353.5" cy="330.8" r="5.6"/><circle class="d" cx="207.0" cy="353.0" r="5.2"/><circle class="p" cx="222.2" cy="352.8" r="5.5"/><circle class="p" cx="369.3" cy="320.3" r="4.5"/><circle class="p" cx="220.1" cy="360.2" r="4.5"/><circle class="u" cx="412.0" cy="356.0" r="4.6"/><circle class="p" cx="513.8" cy="385.5" r="5.4"/><circle class="d" cx="519.4" cy="352.4" r="5.2"/><circle class="p" cx="210.4" cy="357.6" r="5.1"/><circle class="u" cx="198.6" cy="345.9" r="5.1"/><circle class="p" cx="261.8" cy="334.1" r="5.5"/><circle class="m" cx="540.7" cy="330.5" r="5.8"/><circle class="p" cx="231.8" cy="345.3" r="5.4"/><circle class="d" cx="195.6" cy="346.9" r="5.4"/><circle class="p" cx="532.9" cy="353.5" r="4.8"/><circle class="p" cx="480.6" cy="376.0" r="6.0"/><circle class="u" cx="386.6" cy="349.8" r="4.9"/><circle class="u" cx="338.4" cy="393.8" r="4.7"/><circle class="p" cx="480.9" cy="379.4" r="5.1"/><circle class="p" cx="340.9" cy="324.9" r="5.2"/><circle class="p" cx="260.6" cy="328.2" r="5.5"/><circle class="p" cx="219.7" cy="355.3" r="5.1"/><circle class="u" cx="490.4" cy="412.0" r="4.6"/><circle class="p" cx="481.0" cy="388.5" r="5.5"/><circle class="u" cx="189.8" cy="306.0" r="7.0"/><circle class="p" cx="343.0" cy="314.3" r="5.0"/><circle class="u" cx="410.1" cy="355.9" r="4.6"/><circle class="u" cx="411.1" cy="355.8" r="4.9"/><circle class="d" cx="454.2" cy="365.4" r="5.0"/><circle class="u" cx="408.2" cy="360.3" r="5.4"/><circle class="p" cx="237.8" cy="332.2" r="4.6"/><circle class="u" cx="202.7" cy="360.6" r="5.4"/><circle class="p" cx="515.5" cy="388.5" r="5.2"/><circle class="p" cx="223.0" cy="345.6" r="5.3"/><circle class="p" cx="340.4" cy="308.2" r="4.5"/><circle class="p" cx="214.5" cy="357.7" r="5.5"/><circle class="u" cx="348.0" cy="297.0" r="4.6"/><circle class="p" cx="233.0" cy="339.7" r="4.9"/><circle class="u" cx="456.2" cy="301.6" r="5.9"/><circle class="u" cx="235.7" cy="416.7" r="4.6"/><circle class="p" cx="228.2" cy="357.6" r="5.6"/><circle class="u" cx="419.4" cy="308.5" r="5.0"/><circle class="p" cx="509.8" cy="382.3" r="5.1"/><circle class="p" cx="358.8" cy="341.7" r="5.2"/><circle class="p" cx="489.5" cy="375.1" r="5.7"/><circle class="d" cx="283.8" cy="436.3" r="5.3"/><circle class="d" cx="215.9" cy="343.5" r="4.8"/><circle class="d" cx="275.2" cy="431.8" r="5.6"/><circle class="p" cx="215.9" cy="348.8" r="4.9"/><circle class="p" cx="226.2" cy="362.3" r="5.3"/><circle class="u" cx="356.4" cy="364.0" r="5.0"/><circle class="p" cx="211.0" cy="344.2" r="5.5"/><circle class="d" cx="456.0" cy="382.0" r="4.9"/><circle class="p" cx="234.4" cy="338.1" r="5.4"/><circle class="u" cx="453.4" cy="279.8" r="5.5"/><circle class="i" cx="463.7" cy="374.2" r="4.6"/><circle class="u" cx="541.3" cy="412.5" r="5.0"/><circle class="i" cx="458.6" cy="359.9" r="4.5"/><circle class="u" cx="282.4" cy="433.7" r="5.6"/><circle class="p" cx="220.3" cy="335.9" r="4.6"/><circle class="p" cx="332.9" cy="338.9" r="5.4"/><circle class="p" cx="179.2" cy="363.9" r="5.0"/><circle class="p" cx="190.7" cy="325.1" r="4.5"/><circle class="d" cx="394.7" cy="346.3" r="4.8"/><circle class="p" cx="551.2" cy="444.1" r="5.3"/><circle class="p" cx="374.5" cy="327.7" r="4.6"/><circle class="i" cx="411.0" cy="305.1" r="5.3"/><circle class="u" cx="461.0" cy="274.9" r="5.9"/><circle class="u" cx="278.1" cy="439.1" r="4.9"/><circle class="i" cx="514.1" cy="388.6" r="5.0"/><circle class="i" cx="502.2" cy="353.2" r="5.0"/><circle class="i" cx="445.0" cy="371.3" r="5.2"/><circle class="p" cx="241.9" cy="340.2" r="5.0"/><circle class="m" cx="503.6" cy="431.7" r="6.5"/><circle class="m" cx="385.0" cy="372.0" r="5.0"/><circle class="i" cx="406.2" cy="377.3" r="4.6"/><circle class="i" cx="245.6" cy="448.7" r="5.3"/><circle class="i" cx="535.6" cy="348.1" r="4.5"/><circle class="p" cx="488.5" cy="382.9" r="5.1"/><circle class="i" cx="256.9" cy="452.2" r="4.7"/><circle class="p" cx="485.4" cy="391.9" r="5.4"/><circle class="i" cx="370.7" cy="329.4" r="5.3"/><circle class="p" cx="215.4" cy="343.0" r="4.9"/><circle class="d" cx="487.9" cy="380.7" r="4.7"/><circle class="i" cx="220.8" cy="385.9" r="4.8"/><circle class="p" cx="223.2" cy="350.6" r="5.2"/><circle class="p" cx="554.8" cy="447.2" r="5.3"/><circle class="p" cx="215.3" cy="362.8" r="5.4"/><circle class="p" cx="515.8" cy="387.8" r="5.6"/><circle class="p" cx="218.5" cy="333.3" r="5.4"/><circle class="i" cx="369.4" cy="338.2" r="4.7"/><circle class="i" cx="409.0" cy="346.4" r="4.8"/><circle class="p" cx="361.4" cy="336.6" r="5.2"/><circle class="i" cx="518.1" cy="330.9" r="4.6"/><circle class="i" cx="199.9" cy="369.8" r="5.0"/><circle class="i" cx="440.9" cy="368.3" r="5.1"/><circle class="i" cx="464.8" cy="367.7" r="5.3"/><circle class="i" cx="482.4" cy="339.5" r="5.2"/><circle class="i" cx="388.9" cy="403.6" r="5.6"/><circle class="u" cx="454.1" cy="269.7" r="5.3"/><circle class="d" cx="504.6" cy="403.5" r="5.0"/><circle class="i" cx="505.0" cy="421.0" r="5.0"/><circle class="i" cx="451.0" cy="392.6" r="4.5"/><circle class="u" cx="365.4" cy="360.0" r="5.3"/><circle class="i" cx="222.5" cy="380.1" r="5.2"/><circle class="i" cx="348.7" cy="324.6" r="5.3"/><circle class="u" cx="232.3" cy="344.4" r="5.0"/><circle class="i" cx="501.0" cy="352.7" r="4.6"/><circle class="u" cx="414.9" cy="312.4" r="4.7"/><circle class="u" cx="495.0" cy="306.0" r="5.5"/><circle class="p" cx="214.8" cy="344.6" r="5.1"/><circle class="p" cx="349.9" cy="342.1" r="5.5"/><circle class="p" cx="225.3" cy="330.4" r="4.9"/><circle class="i" cx="511.5" cy="371.7" r="4.6"/><circle class="i" cx="504.7" cy="353.2" r="4.7"/><circle class="i" cx="498.7" cy="353.9" r="5.0"/><circle class="i" cx="500.3" cy="345.6" r="5.3"/><circle class="p" cx="254.8" cy="334.7" r="5.3"/><circle class="p" cx="452.3" cy="388.1" r="4.7"/><circle class="u" cx="217.7" cy="359.0" r="4.5"/><circle class="p" cx="182.6" cy="346.2" r="4.9"/><circle class="i" cx="503.4" cy="369.0" r="5.1"/><circle class="i" cx="454.4" cy="374.7" r="4.8"/><circle class="i" cx="448.0" cy="356.3" r="5.0"/><circle class="i" cx="416.0" cy="377.0" r="5.2"/><circle class="p" cx="368.8" cy="341.0" r="5.6"/><circle class="i" cx="406.3" cy="327.1" r="4.6"/><circle class="p" cx="206.9" cy="352.0" r="5.3"/><circle class="p" cx="513.3" cy="387.7" r="5.9"/><circle class="p" cx="514.0" cy="380.4" r="5.9"/><circle class="p" cx="493.4" cy="389.1" r="5.8"/><circle class="u" cx="414.2" cy="369.3" r="5.1"/><circle class="u" cx="422.4" cy="313.4" r="4.7"/><circle class="u" cx="396.4" cy="362.1" r="5.3"/><circle class="i" cx="414.2" cy="380.3" r="5.2"/><circle class="p" cx="370.7" cy="320.1" r="5.0"/><circle class="u" cx="508.6" cy="349.6" r="4.8"/><circle class="i" cx="277.9" cy="429.6" r="5.7"/><circle class="i" cx="439.5" cy="366.9" r="5.4"/><circle class="u" cx="411.9" cy="319.6" r="5.2"/><circle class="p" cx="484.6" cy="399.3" r="5.5"/><circle class="i" cx="501.5" cy="372.9" r="5.1"/><circle class="m" cx="505.4" cy="402.6" r="4.6"/><circle class="p" cx="552.9" cy="442.8" r="5.4"/><circle class="p" cx="212.1" cy="328.0" r="4.6"/><circle class="p" cx="487.4" cy="383.8" r="5.0"/><circle class="u" cx="277.2" cy="432.1" r="5.4"/><circle class="i" cx="467.7" cy="368.1" r="5.1"/><circle class="i" cx="391.5" cy="422.7" r="5.4"/><circle class="p" cx="179.4" cy="349.8" r="4.9"/><circle class="i" cx="406.8" cy="341.9" r="4.6"/><circle class="u" cx="494.6" cy="360.6" r="4.8"/><circle class="p" cx="228.1" cy="335.9" r="4.5"/><circle class="p" cx="340.6" cy="354.8" r="5.2"/><circle class="i" cx="447.0" cy="375.1" r="5.2"/><circle class="i" cx="447.0" cy="356.1" r="5.2"/><circle class="i" cx="513.3" cy="334.1" r="4.8"/><circle class="d" cx="537.7" cy="349.4" r="5.3"/><circle class="p" cx="344.0" cy="339.6" r="4.6"/><circle class="d" cx="199.9" cy="346.7" r="5.6"/><circle class="m" cx="547.0" cy="416.6" r="5.0"/><circle class="i" cx="516.2" cy="340.5" r="5.4"/><circle class="i" cx="363.3" cy="323.6" r="5.4"/><circle class="p" cx="350.3" cy="334.7" r="5.4"/><circle class="i" cx="392.7" cy="337.1" r="5.3"/><circle class="p" cx="182.3" cy="340.7" r="5.4"/><circle class="u" cx="341.7" cy="360.1" r="5.6"/><circle class="u" cx="449.8" cy="272.6" r="5.1"/><circle class="p" cx="172.1" cy="333.3" r="5.2"/><circle class="u" cx="383.9" cy="366.2" r="4.8"/><circle class="p" cx="209.4" cy="358.5" r="5.0"/><circle class="p" cx="209.0" cy="349.6" r="4.8"/><circle class="i" cx="511.3" cy="363.0" r="5.3"/><circle class="d" cx="217.2" cy="358.3" r="4.8"/><circle class="p" cx="208.7" cy="335.8" r="4.8"/><circle class="i" cx="223.1" cy="385.8" r="4.6"/><circle class="p" cx="213.8" cy="341.9" r="5.3"/><circle class="i" cx="238.9" cy="412.3" r="4.8"/><circle class="p" cx="217.3" cy="334.5" r="4.7"/><circle class="p" cx="209.6" cy="340.4" r="5.3"/><circle class="i" cx="391.8" cy="327.2" r="5.4"/><circle class="i" cx="213.9" cy="379.4" r="5.0"/><circle class="i" cx="202.0" cy="370.9" r="5.0"/><circle class="u" cx="440.9" cy="298.3" r="5.8"/><circle class="d" cx="540.9" cy="459.9" r="5.0"/><circle class="i" cx="488.1" cy="375.9" r="4.6"/><circle class="p" cx="265.3" cy="334.0" r="4.5"/><circle class="i" cx="242.6" cy="395.2" r="4.6"/><circle class="u" cx="456.7" cy="276.6" r="6.0"/><circle class="p" cx="235.6" cy="348.6" r="4.8"/><circle class="p" cx="337.2" cy="323.5" r="4.6"/><circle class="i" cx="397.9" cy="345.7" r="5.4"/><circle class="i" cx="445.0" cy="357.2" r="5.0"/><circle class="i" cx="458.1" cy="370.9" r="4.7"/><circle class="i" cx="414.8" cy="368.9" r="5.3"/><circle class="d" cx="533.9" cy="353.6" r="4.9"/><circle class="u" cx="392.5" cy="345.4" r="5.0"/><circle class="i" cx="382.6" cy="306.3" r="4.8"/><circle class="i" cx="494.7" cy="385.7" r="5.8"/><circle class="p" cx="189.1" cy="317.0" r="4.9"/><circle class="p" cx="238.0" cy="351.3" r="4.9"/><circle class="i" cx="488.3" cy="383.8" r="5.7"/><circle class="i" cx="421.3" cy="368.7" r="5.1"/><circle class="p" cx="376.6" cy="347.1" r="5.6"/><circle class="i" cx="493.1" cy="366.7" r="4.6"/><circle class="p" cx="511.7" cy="393.8" r="5.2"/><circle class="i" cx="490.9" cy="357.7" r="5.4"/><circle class="i" cx="399.9" cy="345.3" r="4.8"/><circle class="p" cx="338.0" cy="314.5" r="5.3"/><circle class="i" cx="484.8" cy="405.8" r="5.4"/><circle class="i" cx="442.4" cy="357.9" r="5.1"/><circle class="u" cx="500.3" cy="361.3" r="5.3"/><circle class="i" cx="488.2" cy="378.0" r="5.2"/><circle class="i" cx="410.1" cy="311.2" r="5.0"/><circle class="u" cx="411.6" cy="363.6" r="4.6"/><circle class="i" cx="492.4" cy="371.9" r="4.6"/><circle class="d" cx="384.7" cy="351.9" r="4.7"/><circle class="u" cx="506.9" cy="341.5" r="5.5"/><circle class="d" cx="178.2" cy="346.7" r="4.7"/><circle class="d" cx="536.2" cy="347.3" r="5.1"/><circle class="i" cx="414.5" cy="355.7" r="5.2"/><circle class="i" cx="408.6" cy="323.3" r="4.8"/><circle class="i" cx="410.8" cy="355.1" r="4.9"/><circle class="u" cx="419.9" cy="324.4" r="4.8"/><circle class="d" cx="512.2" cy="359.0" r="4.9"/><circle class="u" cx="422.0" cy="366.6" r="5.0"/><circle class="i" cx="457.0" cy="378.5" r="5.3"/><circle class="i" cx="399.7" cy="301.0" r="5.1"/><circle class="p" cx="362.9" cy="324.3" r="5.0"/><circle class="d" cx="461.7" cy="374.4" r="5.2"/><circle class="i" cx="492.4" cy="371.5" r="5.3"/><circle class="i" cx="391.1" cy="421.0" r="5.1"/><circle class="i" cx="542.0" cy="447.5" r="5.2"/><circle class="d" cx="487.5" cy="411.3" r="5.3"/><circle class="i" cx="283.5" cy="409.9" r="6.0"/><circle class="i" cx="242.2" cy="425.5" r="5.6"/><circle class="d" cx="511.1" cy="372.2" r="5.3"/><circle class="p" cx="492.2" cy="376.8" r="5.6"/><circle class="p" cx="237.8" cy="334.7" r="5.5"/><circle class="p" cx="359.7" cy="296.6" r="4.7"/><circle class="i" cx="451.7" cy="359.5" r="5.2"/><circle class="i" cx="510.8" cy="356.0" r="4.9"/><circle class="d" cx="178.8" cy="350.3" r="5.3"/><circle class="p" cx="492.1" cy="375.5" r="5.1"/><circle class="u" cx="396.2" cy="349.2" r="5.0"/><circle class="i" cx="429.2" cy="308.5" r="4.7"/><circle class="d" cx="481.4" cy="402.5" r="5.3"/><circle class="d" cx="278.0" cy="421.0" r="4.8"/><circle class="d" cx="518.8" cy="350.7" r="4.5"/><circle class="i" cx="488.1" cy="363.2" r="4.5"/><circle class="i" cx="473.8" cy="363.4" r="5.2"/><circle class="u" cx="405.1" cy="356.1" r="5.3"/><circle class="p" cx="175.2" cy="331.2" r="4.7"/><circle class="p" cx="220.2" cy="342.5" r="5.1"/><circle class="i" cx="390.8" cy="333.6" r="5.1"/><circle class="u" cx="437.0" cy="259.0" r="6.2"/><circle class="p" cx="217.6" cy="361.6" r="5.1"/><circle class="p" cx="338.6" cy="337.7" r="4.7"/><circle class="i" cx="425.5" cy="318.8" r="4.7"/><circle class="d" cx="207.2" cy="343.2" r="4.8"/><circle class="d" cx="211.6" cy="345.6" r="4.7"/><circle class="d" cx="391.7" cy="359.0" r="4.8"/><circle class="i" cx="497.0" cy="363.4" r="5.4"/><circle class="p" cx="344.8" cy="320.4" r="5.5"/><circle class="i" cx="503.7" cy="361.1" r="4.9"/><circle class="m" cx="195.0" cy="348.6" r="4.8"/><circle class="i" cx="485.7" cy="347.1" r="5.1"/><circle class="i" cx="392.7" cy="319.4" r="4.9"/><circle class="u" cx="368.7" cy="361.8" r="4.6"/><circle class="u" cx="424.6" cy="309.4" r="4.8"/><circle class="u" cx="384.7" cy="363.7" r="5.6"/><circle class="i" cx="396.4" cy="348.7" r="4.6"/><circle class="i" cx="396.1" cy="407.3" r="6.5"/><circle class="p" cx="211.9" cy="347.5" r="4.9"/><circle class="i" cx="237.1" cy="406.4" r="4.6"/><circle class="p" cx="344.9" cy="336.1" r="4.9"/><circle class="i" cx="395.8" cy="331.9" r="4.6"/><circle class="i" cx="509.7" cy="340.5" r="4.7"/><circle class="p" cx="513.1" cy="381.2" r="5.9"/><circle class="p" cx="352.3" cy="331.5" r="5.3"/><circle class="u" cx="361.1" cy="412.0" r="6.1"/><circle class="u" cx="418.8" cy="369.8" r="5.6"/><circle class="m" cx="513.7" cy="403.5" r="5.0"/><circle class="p" cx="173.9" cy="333.8" r="4.6"/><circle class="i" cx="415.5" cy="301.1" r="5.1"/><circle class="i" cx="367.0" cy="333.9" r="5.0"/><circle class="i" cx="280.5" cy="432.1" r="5.0"/><circle class="p" cx="509.9" cy="382.7" r="5.1"/><circle class="i" cx="416.8" cy="363.6" r="5.1"/><circle class="i" cx="412.9" cy="314.5" r="4.7"/><circle class="p" cx="322.8" cy="363.0" r="4.8"/><circle class="i" cx="347.9" cy="391.1" r="4.9"/><circle class="i" cx="453.0" cy="380.5" r="4.5"/><circle class="i" cx="491.1" cy="354.7" r="5.5"/><circle class="p" cx="331.2" cy="346.2" r="4.8"/><circle class="p" cx="334.3" cy="340.6" r="4.6"/><circle class="d" cx="225.0" cy="371.3" r="4.8"/><circle class="u" cx="361.3" cy="411.2" r="5.5"/><circle class="i" cx="511.9" cy="348.6" r="4.9"/><circle class="p" cx="176.5" cy="343.7" r="4.5"/><circle class="i" cx="510.1" cy="342.3" r="4.6"/><circle class="i" cx="256.0" cy="391.3" r="5.7"/><circle class="d" cx="526.1" cy="357.6" r="4.8"/><circle class="d" cx="445.4" cy="367.9" r="5.2"/><circle class="i" cx="490.7" cy="364.0" r="5.0"/><circle class="p" cx="545.8" cy="459.5" r="4.8"/><circle class="i" cx="445.4" cy="366.3" r="5.2"/><circle class="p" cx="218.2" cy="346.4" r="5.5"/><circle class="u" cx="348.1" cy="360.6" r="5.3"/><circle class="u" cx="416.9" cy="325.9" r="5.3"/><circle class="i" cx="448.0" cy="363.6" r="4.6"/><circle class="i" cx="489.8" cy="361.7" r="5.3"/><circle class="u" cx="419.8" cy="314.3" r="4.7"/><circle class="p" cx="340.2" cy="315.5" r="4.8"/><circle class="p" cx="361.7" cy="320.1" r="4.5"/><circle class="i" cx="429.8" cy="320.5" r="4.9"/><circle class="p" cx="363.1" cy="321.5" r="4.6"/><circle class="i" cx="374.6" cy="319.0" r="5.0"/><circle class="p" cx="372.5" cy="346.6" r="5.2"/><circle class="p" cx="211.5" cy="344.7" r="5.2"/><circle class="p" cx="511.6" cy="372.2" r="5.1"/><circle class="i" cx="374.0" cy="282.0" r="5.6"/><circle class="i" cx="284.1" cy="408.9" r="6.6"/><circle class="d" cx="202.8" cy="357.9" r="4.7"/><circle class="u" cx="343.5" cy="358.9" r="5.6"/><circle class="u" cx="500.0" cy="300.0" r="5.0"/><circle class="u" cx="500.5" cy="362.1" r="5.0"/><circle class="i" cx="370.4" cy="327.4" r="5.2"/><circle class="p" cx="212.1" cy="327.5" r="4.6"/><circle class="u" cx="426.0" cy="320.5" r="5.2"/><circle class="i" cx="292.7" cy="418.0" r="6.4"/><circle class="u" cx="284.1" cy="434.5" r="5.7"/><circle class="u" cx="486.7" cy="386.2" r="5.5"/><circle class="i" cx="380.3" cy="323.5" r="4.9"/><circle class="i" cx="401.8" cy="362.5" r="4.9"/><circle class="p" cx="235.8" cy="333.9" r="5.2"/><circle class="p" cx="349.1" cy="335.6" r="4.8"/><circle class="p" cx="206.4" cy="331.8" r="5.1"/><circle class="p" cx="356.7" cy="340.2" r="5.5"/><circle class="u" cx="484.5" cy="376.9" r="5.2"/><circle class="i" cx="401.6" cy="342.1" r="5.1"/><circle class="i" cx="494.1" cy="413.3" r="4.5"/><circle class="d" cx="204.1" cy="357.3" r="5.2"/><circle class="p" cx="491.3" cy="383.4" r="5.7"/><circle class="i" cx="250.7" cy="394.7" r="4.5"/><circle class="i" cx="488.5" cy="391.9" r="5.8"/><circle class="i" cx="489.0" cy="325.3" r="4.6"/><circle class="i" cx="354.5" cy="393.3" r="5.5"/><circle class="d" cx="460.7" cy="331.5" r="4.8"/><circle class="i" cx="493.1" cy="349.9" r="4.9"/><circle class="p" cx="219.1" cy="329.0" r="5.5"/><circle class="p" cx="237.9" cy="339.9" r="4.6"/><circle class="i" cx="492.3" cy="364.7" r="5.5"/><circle class="i" cx="384.6" cy="344.6" r="5.2"/><circle class="u" cx="408.7" cy="354.1" r="5.3"/><circle class="i" cx="509.7" cy="336.3" r="5.4"/><circle class="i" cx="381.3" cy="443.8" r="5.1"/><circle class="p" cx="482.9" cy="378.2" r="5.3"/><circle class="i" cx="444.4" cy="322.6" r="4.6"/><circle class="i" cx="484.9" cy="351.7" r="4.8"/><circle class="i" cx="369.6" cy="317.4" r="5.1"/><circle class="u" cx="544.0" cy="321.0" r="4.8"/><circle class="p" cx="510.7" cy="383.5" r="5.9"/><circle class="i" cx="398.7" cy="349.9" r="5.0"/><circle class="u" cx="242.9" cy="394.1" r="5.6"/><circle class="i" cx="385.7" cy="410.4" r="4.9"/><circle class="i" cx="455.9" cy="363.2" r="4.6"/><circle class="i" cx="353.8" cy="318.7" r="4.8"/><circle class="p" cx="345.5" cy="351.8" r="5.3"/><circle class="i" cx="399.3" cy="303.4" r="5.3"/><circle class="i" cx="358.8" cy="334.3" r="5.3"/><circle class="d" cx="487.8" cy="395.5" r="5.4"/><circle class="i" cx="487.6" cy="365.2" r="4.8"/><circle class="p" cx="378.5" cy="345.0" r="4.6"/><circle class="u" cx="408.0" cy="349.3" r="5.0"/><circle class="p" cx="351.1" cy="354.6" r="5.0"/><circle class="p" cx="212.9" cy="326.6" r="5.5"/><circle class="u" cx="490.0" cy="356.5" r="5.2"/><circle class="u" cx="404.6" cy="371.6" r="4.8"/><circle class="i" cx="482.1" cy="359.2" r="5.2"/><circle class="p" cx="186.4" cy="323.1" r="4.6"/><circle class="u" cx="485.1" cy="407.2" r="4.7"/><circle class="i" cx="545.9" cy="466.0" r="5.0"/><circle class="i" cx="446.3" cy="372.3" r="5.0"/><circle class="d" cx="390.5" cy="361.2" r="4.9"/><circle class="p" cx="501.4" cy="415.6" r="5.5"/><circle class="i" cx="360.0" cy="330.7" r="5.1"/><circle class="i" cx="397.2" cy="329.3" r="5.2"/><circle class="i" cx="440.3" cy="365.6" r="4.8"/><circle class="p" cx="343.9" cy="319.9" r="5.0"/><circle class="u" cx="415.6" cy="319.1" r="4.9"/><circle class="p" cx="353.7" cy="343.8" r="5.2"/><circle class="d" cx="242.2" cy="337.6" r="4.6"/><circle class="i" cx="460.6" cy="362.9" r="5.2"/><circle class="u" cx="273.2" cy="446.3" r="4.5"/><circle class="d" cx="215.5" cy="337.1" r="5.0"/><circle class="p" cx="514.4" cy="386.6" r="5.3"/><circle class="p" cx="225.1" cy="360.2" r="5.1"/><circle class="p" cx="340.0" cy="312.3" r="4.6"/><circle class="i" cx="411.3" cy="328.6" r="4.9"/><circle class="i" cx="445.6" cy="362.3" r="4.8"/><circle class="i" cx="243.6" cy="395.2" r="5.4"/><circle class="p" cx="364.6" cy="317.9" r="4.6"/><circle class="i" cx="370.4" cy="324.0" r="5.2"/><circle class="p" cx="341.3" cy="335.2" r="5.1"/><circle class="i" cx="508.9" cy="351.6" r="5.3"/><circle class="d" cx="215.4" cy="343.6" r="4.8"/><circle class="p" cx="371.9" cy="313.7" r="5.4"/><circle class="i" cx="395.3" cy="312.7" r="5.4"/><circle class="p" cx="180.5" cy="354.9" r="4.9"/><circle class="u" cx="503.8" cy="355.0" r="4.7"/><circle class="i" cx="424.8" cy="316.2" r="5.2"/><circle class="p" cx="234.9" cy="342.5" r="4.9"/><circle class="p" cx="340.6" cy="330.9" r="4.5"/><circle class="i" cx="507.4" cy="348.3" r="5.0"/><circle class="p" cx="223.2" cy="343.9" r="5.4"/><circle class="i" cx="355.8" cy="324.5" r="5.3"/><circle class="u" cx="243.5" cy="397.6" r="5.5"/><circle class="d" cx="451.0" cy="357.4" r="4.7"/><circle class="d" cx="203.8" cy="343.7" r="5.1"/><circle class="i" cx="420.2" cy="357.0" r="4.8"/><circle class="i" cx="467.5" cy="369.6" r="5.0"/><circle class="u" cx="371.7" cy="365.6" r="4.8"/><circle class="i" cx="445.5" cy="360.3" r="5.0"/><circle class="p" cx="339.7" cy="309.7" r="5.3"/><circle class="i" cx="385.4" cy="321.5" r="4.5"/><circle class="i" cx="470.8" cy="342.8" r="6.3"/><circle class="d" cx="518.9" cy="347.4" r="4.6"/><circle class="i" cx="375.4" cy="316.0" r="4.6"/><circle class="d" cx="492.9" cy="382.4" r="5.5"/><circle class="i" cx="321.0" cy="382.7" r="4.6"/><circle class="i" cx="420.6" cy="359.1" r="4.9"/><circle class="p" cx="183.7" cy="352.7" r="5.3"/><circle class="p" cx="199.0" cy="348.9" r="5.1"/><circle class="p" cx="238.9" cy="350.7" r="5.2"/><circle class="i" cx="509.1" cy="345.2" r="5.2"/><circle class="p" cx="549.7" cy="453.8" r="5.3"/><circle class="u" cx="459.8" cy="283.0" r="5.4"/><circle class="i" cx="462.0" cy="346.4" r="5.4"/><circle class="i" cx="404.8" cy="325.8" r="5.3"/><circle class="i" cx="498.4" cy="364.7" r="4.9"/><circle class="d" cx="214.6" cy="362.6" r="4.6"/><circle class="u" cx="458.7" cy="285.0" r="5.1"/><circle class="p" cx="351.9" cy="353.8" r="5.3"/><circle class="i" cx="514.1" cy="393.4" r="5.8"/><circle class="u" cx="452.2" cy="276.8" r="5.4"/><circle class="u" cx="186.0" cy="335.4" r="4.6"/><circle class="i" cx="420.9" cy="321.5" r="4.7"/><circle class="d" cx="385.0" cy="342.4" r="4.9"/><circle class="p" cx="332.6" cy="342.5" r="4.9"/><circle class="p" cx="233.8" cy="371.8" r="4.9"/><circle class="p" cx="235.0" cy="347.3" r="5.2"/><circle class="p" cx="358.3" cy="329.9" r="5.0"/><circle class="p" cx="537.0" cy="453.1" r="5.1"/><circle class="d" cx="208.2" cy="344.5" r="5.5"/><circle class="u" cx="384.1" cy="361.4" r="5.4"/><circle class="i" cx="361.6" cy="332.3" r="4.8"/><circle class="p" cx="216.9" cy="352.0" r="4.9"/><circle class="i" cx="386.1" cy="311.4" r="4.7"/><circle class="i" cx="501.5" cy="365.6" r="5.1"/><circle class="i" cx="422.4" cy="322.1" r="4.9"/><circle class="u" cx="410.0" cy="370.4" r="4.7"/><circle class="i" cx="504.0" cy="432.5" r="4.8"/><circle class="i" cx="397.9" cy="300.3" r="4.7"/><circle class="i" cx="501.4" cy="349.0" r="4.8"/><circle class="p" cx="227.9" cy="333.7" r="4.6"/><circle class="i" cx="405.6" cy="322.9" r="4.6"/><circle class="p" cx="183.2" cy="363.8" r="4.9"/><circle class="p" cx="446.8" cy="379.7" r="5.0"/><circle class="i" cx="491.2" cy="356.0" r="5.1"/><circle class="i" cx="201.8" cy="369.2" r="5.6"/><circle class="i" cx="354.8" cy="397.3" r="5.3"/><circle class="p" cx="494.2" cy="389.1" r="5.6"/><circle class="p" cx="520.1" cy="349.0" r="5.0"/><circle class="i" cx="482.8" cy="358.8" r="4.6"/><circle class="p" cx="509.6" cy="348.1" r="4.7"/><circle class="i" cx="404.1" cy="360.0" r="4.7"/><circle class="i" cx="391.5" cy="348.3" r="4.8"/><circle class="d" cx="489.2" cy="410.5" r="5.1"/><circle class="i" cx="391.4" cy="406.7" r="5.0"/><circle class="u" cx="251.4" cy="396.7" r="4.8"/><circle class="d" cx="448.6" cy="355.4" r="5.1"/><circle class="i" cx="502.3" cy="350.4" r="5.3"/><circle class="i" cx="443.4" cy="366.2" r="4.6"/><circle class="i" cx="453.7" cy="384.5" r="5.0"/><circle class="p" cx="480.4" cy="375.5" r="5.1"/><circle class="p" cx="210.9" cy="369.5" r="4.7"/><circle class="p" cx="214.2" cy="348.1" r="4.8"/><circle class="u" cx="237.8" cy="394.2" r="5.8"/><circle class="i" cx="405.5" cy="301.6" r="5.0"/><circle class="u" cx="448.8" cy="293.5" r="5.4"/><circle class="i" cx="343.7" cy="393.0" r="5.6"/><circle class="p" cx="480.7" cy="390.8" r="5.9"/><circle class="u" cx="342.3" cy="356.4" r="4.8"/><circle class="i" cx="507.3" cy="366.8" r="4.8"/><circle class="i" cx="264.4" cy="454.1" r="5.7"/><circle class="m" cx="239.3" cy="420.0" r="5.2"/><circle class="d" cx="216.9" cy="346.8" r="5.3"/><circle class="i" cx="386.5" cy="329.9" r="5.4"/><circle class="p" cx="201.5" cy="336.3" r="5.0"/><circle class="p" cx="338.1" cy="316.2" r="4.9"/><circle class="p" cx="370.7" cy="288.7" r="5.2"/><circle class="i" cx="519.8" cy="333.1" r="4.9"/><circle class="u" cx="409.1" cy="360.8" r="4.6"/><circle class="p" cx="511.4" cy="387.5" r="5.6"/><circle class="i" cx="440.0" cy="371.6" r="4.7"/><circle class="i" cx="452.1" cy="368.8" r="5.1"/><circle class="p" cx="515.1" cy="387.4" r="5.5"/><circle class="i" cx="555.0" cy="442.0" r="5.2"/><circle class="i" cx="471.1" cy="372.3" r="4.5"/><circle class="p" cx="355.0" cy="352.8" r="5.2"/><circle class="i" cx="398.5" cy="347.3" r="5.1"/><circle class="u" cx="510.0" cy="340.7" r="4.9"/><circle class="u" cx="450.1" cy="299.9" r="5.4"/><circle class="i" cx="407.5" cy="301.5" r="5.0"/><circle class="i" cx="340.7" cy="395.4" r="5.6"/><circle class="u" cx="245.8" cy="448.4" r="4.5"/><circle class="p" cx="220.9" cy="354.8" r="5.2"/><circle class="d" cx="209.2" cy="346.1" r="5.1"/><circle class="p" cx="235.2" cy="354.3" r="5.1"/><circle class="i" cx="397.7" cy="359.4" r="4.7"/><circle class="p" cx="251.8" cy="377.0" r="4.8"/><circle class="i" cx="427.5" cy="305.3" r="4.9"/><circle class="p" cx="227.0" cy="338.0" r="4.7"/><circle class="i" cx="507.1" cy="348.1" r="5.1"/><circle class="i" cx="487.5" cy="377.6" r="5.6"/><circle class="i" cx="527.5" cy="355.5" r="4.7"/><circle class="p" cx="511.0" cy="384.4" r="4.9"/><circle class="u" cx="383.8" cy="364.5" r="4.5"/><circle class="i" cx="485.7" cy="357.9" r="4.6"/><circle class="u" cx="448.2" cy="296.3" r="5.1"/><circle class="i" cx="537.9" cy="450.3" r="5.1"/><circle class="p" cx="487.6" cy="373.6" r="6.0"/><circle class="i" cx="406.7" cy="348.2" r="4.5"/><circle class="p" cx="174.1" cy="330.3" r="4.7"/><circle class="u" cx="235.0" cy="343.0" r="4.6"/><circle class="p" cx="553.4" cy="443.2" r="5.1"/><circle class="i" cx="496.2" cy="352.0" r="4.8"/><circle class="i" cx="384.1" cy="347.8" r="4.6"/><circle class="i" cx="447.6" cy="385.8" r="4.7"/><circle class="d" cx="529.2" cy="355.1" r="5.0"/><circle class="i" cx="382.2" cy="442.4" r="5.3"/><circle class="d" cx="486.3" cy="407.6" r="4.5"/><circle class="p" cx="344.1" cy="339.0" r="5.3"/><circle class="u" cx="490.0" cy="303.0" r="5.5"/><circle class="u" cx="283.9" cy="436.8" r="5.1"/><circle class="i" cx="531.4" cy="353.2" r="5.3"/><circle class="i" cx="374.6" cy="334.1" r="5.3"/><circle class="d" cx="535.4" cy="350.7" r="5.2"/><circle class="i" cx="491.2" cy="387.4" r="4.7"/><circle class="p" cx="489.8" cy="388.0" r="4.8"/><circle class="i" cx="450.1" cy="360.7" r="5.3"/><circle class="p" cx="525.4" cy="356.7" r="5.4"/><circle class="i" cx="364.0" cy="339.0" r="4.6"/><circle class="d" cx="197.7" cy="333.8" r="5.6"/><circle class="u" cx="352.6" cy="396.2" r="5.8"/><circle class="i" cx="455.4" cy="361.0" r="4.8"/><circle class="u" cx="406.5" cy="355.8" r="5.4"/><circle class="u" cx="498.2" cy="356.6" r="5.0"/><circle class="u" cx="364.5" cy="359.3" r="5.1"/><circle class="i" cx="517.0" cy="390.9" r="4.9"/><circle class="i" cx="387.0" cy="439.1" r="4.9"/><circle class="p" cx="180.7" cy="352.1" r="5.0"/><circle class="i" cx="451.3" cy="385.0" r="5.0"/><circle class="d" cx="393.9" cy="341.5" r="4.9"/><circle class="p" cx="486.7" cy="401.2" r="5.2"/><circle class="u" cx="413.0" cy="313.4" r="4.8"/><circle class="p" cx="486.5" cy="376.1" r="5.4"/><circle class="i" cx="506.2" cy="370.3" r="5.4"/><circle class="p" cx="219.5" cy="329.1" r="4.5"/><circle class="i" cx="453.5" cy="389.0" r="4.6"/><circle class="i" cx="281.0" cy="411.1" r="6.4"/><circle class="i" cx="358.0" cy="327.9" r="5.2"/><circle class="p" cx="340.4" cy="351.2" r="5.4"/><circle class="i" cx="487.7" cy="348.7" r="5.7"/><circle class="u" cx="401.8" cy="344.7" r="4.6"/><circle class="p" cx="486.9" cy="375.0" r="5.4"/><circle class="u" cx="408.8" cy="352.9" r="4.6"/><circle class="i" cx="374.9" cy="334.5" r="5.2"/><circle class="p" cx="488.9" cy="376.2" r="5.5"/><circle class="p" cx="348.7" cy="327.1" r="5.4"/><circle class="i" cx="375.8" cy="335.1" r="4.7"/><circle class="i" cx="278.6" cy="436.4" r="5.7"/><circle class="u" cx="412.9" cy="322.6" r="5.4"/><circle class="p" cx="253.5" cy="333.7" r="4.9"/><circle class="u" cx="443.0" cy="257.0" r="6.2"/><circle class="p" cx="231.8" cy="362.9" r="5.3"/><circle class="i" cx="537.9" cy="350.7" r="4.5"/><circle class="p" cx="339.2" cy="316.7" r="5.5"/><circle class="i" cx="379.7" cy="319.9" r="4.7"/><circle class="i" cx="499.7" cy="364.0" r="4.5"/><circle class="i" cx="393.0" cy="321.3" r="4.6"/><circle class="u" cx="506.1" cy="355.7" r="4.9"/><circle class="p" cx="354.2" cy="322.6" r="5.0"/><circle class="u" cx="185.0" cy="340.2" r="5.3"/><circle class="i" cx="523.2" cy="338.1" r="4.6"/><circle class="p" cx="347.7" cy="344.3" r="4.9"/><circle class="d" cx="232.9" cy="352.3" r="5.2"/><circle class="u" cx="255.6" cy="458.0" r="5.6"/><circle class="p" cx="481.6" cy="401.5" r="5.5"/><circle class="p" cx="254.3" cy="334.0" r="5.3"/><circle class="u" cx="500.8" cy="372.1" r="5.1"/><circle class="u" cx="417.3" cy="364.7" r="4.7"/><circle class="u" cx="409.3" cy="314.8" r="5.3"/><circle class="u" cx="422.3" cy="371.9" r="4.8"/><circle class="i" cx="504.2" cy="356.9" r="5.3"/><circle class="i" cx="496.2" cy="344.9" r="5.2"/><circle class="i" cx="373.1" cy="330.6" r="5.4"/><circle class="u" cx="422.1" cy="314.9" r="5.2"/><circle class="u" cx="477.4" cy="298.0" r="6.5"/><circle class="i" cx="499.8" cy="371.0" r="4.6"/><circle class="u" cx="380.5" cy="361.1" r="5.2"/><circle class="p" cx="180.0" cy="339.3" r="4.8"/><circle class="i" cx="446.3" cy="363.4" r="5.0"/><circle class="p" cx="488.6" cy="378.5" r="5.6"/><circle class="i" cx="240.2" cy="405.8" r="4.7"/><circle class="i" cx="387.8" cy="408.4" r="5.9"/><circle class="p" cx="224.4" cy="360.7" r="5.2"/><circle class="i" cx="378.0" cy="442.2" r="5.5"/><circle class="p" cx="483.8" cy="393.8" r="6.0"/><circle class="i" cx="351.9" cy="392.9" r="5.7"/><circle class="u" cx="481.9" cy="404.8" r="5.3"/><circle class="u" cx="456.3" cy="293.7" r="5.3"/><circle class="u" cx="217.0" cy="375.0" r="4.5"/><circle class="p" cx="233.6" cy="338.7" r="5.1"/><circle class="p" cx="191.6" cy="320.0" r="5.5"/><circle class="u" cx="194.8" cy="336.9" r="4.8"/><circle class="u" cx="409.5" cy="348.1" r="5.3"/><circle class="i" cx="396.3" cy="341.4" r="5.0"/><circle class="p" cx="241.6" cy="343.3" r="4.6"/><circle class="p" cx="226.8" cy="350.2" r="5.1"/><circle class="i" cx="501.5" cy="347.7" r="5.3"/><circle class="p" cx="185.4" cy="323.7" r="5.2"/><circle class="p" cx="178.2" cy="363.0" r="4.6"/><circle class="d" cx="378.0" cy="298.0" r="4.8"/><circle class="i" cx="456.0" cy="323.4" r="4.6"/><circle class="p" cx="353.6" cy="352.0" r="4.5"/><circle class="u" cx="415.0" cy="312.7" r="5.2"/><circle class="i" cx="487.5" cy="385.3" r="5.9"/><circle class="p" cx="190.7" cy="343.8" r="4.6"/><circle class="i" cx="391.1" cy="402.5" r="5.2"/><circle class="p" cx="177.3" cy="342.4" r="4.8"/><circle class="p" cx="205.5" cy="335.0" r="5.1"/><circle class="i" cx="517.3" cy="334.7" r="5.1"/><circle class="i" cx="439.2" cy="358.5" r="5.0"/><circle class="i" cx="510.1" cy="366.5" r="5.0"/><circle class="i" cx="486.6" cy="351.9" r="5.5"/><circle class="i" cx="368.8" cy="341.5" r="4.8"/><circle class="i" cx="508.0" cy="340.2" r="5.3"/><circle class="i" cx="500.0" cy="358.2" r="5.0"/><circle class="u" cx="483.5" cy="370.9" r="4.6"/><circle class="u" cx="406.1" cy="354.5" r="5.0"/><circle class="i" cx="504.6" cy="407.8" r="5.4"/><circle class="d" cx="336.0" cy="310.0" r="4.6"/><circle class="i" cx="437.4" cy="361.7" r="4.7"/><circle class="u" cx="415.4" cy="326.7" r="4.6"/><circle class="i" cx="537.0" cy="329.0" r="4.8"/><circle class="i" cx="447.2" cy="374.8" r="5.0"/><circle class="i" cx="480.8" cy="366.2" r="5.1"/><circle class="i" cx="493.4" cy="372.3" r="5.1"/><circle class="i" cx="489.4" cy="352.5" r="5.4"/><circle class="i" cx="337.8" cy="395.3" r="5.8"/><circle class="i" cx="509.4" cy="342.7" r="4.6"/><circle class="p" cx="492.8" cy="388.9" r="5.2"/><circle class="i" cx="484.8" cy="380.3" r="5.5"/><circle class="p" cx="511.3" cy="382.8" r="5.7"/><circle class="p" cx="174.7" cy="339.9" r="5.0"/><circle class="u" cx="242.4" cy="425.5" r="5.2"/><circle class="u" cx="446.8" cy="278.2" r="5.7"/><circle class="i" cx="521.2" cy="295.4" r="5.3"/><circle class="p" cx="513.3" cy="384.3" r="5.7"/><circle class="u" cx="422.0" cy="317.2" r="4.8"/><circle class="i" cx="252.0" cy="394.5" r="5.7"/><circle class="p" cx="258.7" cy="332.7" r="4.9"/><circle class="u" cx="424.1" cy="316.4" r="5.0"/><circle class="u" cx="541.6" cy="318.5" r="5.8"/><circle class="p" cx="341.4" cy="339.9" r="5.0"/><circle class="p" cx="261.9" cy="329.4" r="5.1"/><circle class="i" cx="452.1" cy="385.9" r="5.4"/><circle class="d" cx="221.8" cy="344.8" r="4.6"/><circle class="p" cx="369.2" cy="342.7" r="5.4"/><circle class="i" cx="508.9" cy="350.6" r="4.5"/><circle class="p" cx="235.1" cy="345.3" r="5.3"/><circle class="u" cx="354.5" cy="359.5" r="4.5"/><circle class="i" cx="405.0" cy="334.5" r="4.8"/><circle class="u" cx="353.5" cy="284.0" r="4.6"/><circle class="i" cx="510.8" cy="357.2" r="4.7"/><circle class="p" cx="492.8" cy="384.6" r="4.9"/><circle class="p" cx="241.2" cy="335.3" r="5.5"/><circle class="p" cx="492.9" cy="379.7" r="5.4"/><circle class="i" cx="471.2" cy="369.8" r="4.7"/><circle class="i" cx="367.0" cy="339.1" r="4.9"/><circle class="i" cx="397.2" cy="313.5" r="5.1"/><circle class="i" cx="510.9" cy="389.3" r="5.8"/><circle class="i" cx="388.8" cy="308.4" r="4.7"/><circle class="u" cx="203.7" cy="376.7" r="4.6"/><circle class="i" cx="358.3" cy="295.3" r="4.6"/><circle class="d" cx="218.3" cy="340.9" r="4.8"/><circle class="u" cx="412.0" cy="373.1" r="4.7"/><circle class="i" cx="407.5" cy="364.5" r="4.6"/><circle class="p" cx="215.0" cy="333.3" r="5.6"/><circle class="p" cx="486.2" cy="384.3" r="5.7"/><circle class="i" cx="471.5" cy="336.1" r="6.3"/><circle class="p" cx="224.0" cy="360.3" r="5.5"/><circle class="i" cx="431.1" cy="310.7" r="5.4"/><circle class="u" cx="485.3" cy="362.4" r="4.9"/><circle class="p" cx="347.0" cy="350.9" r="5.4"/><circle class="i" cx="509.2" cy="339.3" r="4.6"/><circle class="i" cx="450.4" cy="379.1" r="4.9"/><circle class="u" cx="351.4" cy="362.4" r="4.6"/><circle class="p" cx="489.5" cy="377.7" r="5.5"/><circle class="i" cx="508.9" cy="366.8" r="4.6"/><circle class="u" cx="417.4" cy="316.1" r="4.9"/><circle class="u" cx="281.5" cy="430.7" r="4.6"/><circle class="i" cx="254.1" cy="447.9" r="5.8"/><circle class="u" cx="414.4" cy="359.8" r="4.7"/><circle class="i" cx="503.0" cy="363.5" r="5.1"/><circle class="i" cx="401.8" cy="372.2" r="5.1"/><circle class="p" cx="484.3" cy="393.0" r="5.4"/><circle class="i" cx="404.6" cy="362.5" r="5.0"/><circle class="i" cx="347.4" cy="334.8" r="4.9"/><circle class="i" cx="206.9" cy="379.9" r="4.6"/><circle class="i" cx="347.0" cy="322.0" r="4.6"/><circle class="d" cx="459.6" cy="377.1" r="4.7"/><circle class="i" cx="490.0" cy="357.1" r="5.3"/><circle class="u" cx="378.4" cy="361.3" r="5.0"/><circle class="u" cx="411.5" cy="322.4" r="4.6"/><circle class="i" cx="455.8" cy="363.3" r="4.7"/><circle class="p" cx="344.1" cy="320.1" r="4.8"/><circle class="i" cx="399.2" cy="313.9" r="4.7"/><circle class="u" cx="485.6" cy="408.2" r="4.8"/><circle class="u" cx="499.0" cy="295.0" r="5.5"/><circle class="d" cx="215.5" cy="337.6" r="4.6"/><circle class="i" cx="404.1" cy="312.9" r="4.5"/><circle class="i" cx="418.9" cy="328.1" r="5.2"/><circle class="i" cx="406.2" cy="379.5" r="4.9"/><circle class="p" cx="346.1" cy="328.0" r="4.8"/><circle class="i" cx="395.6" cy="306.2" r="4.9"/><circle class="i" cx="480.5" cy="363.9" r="4.7"/><circle class="u" cx="527.8" cy="406.5" r="6.5"/><circle class="i" cx="412.6" cy="325.4" r="5.4"/><circle class="i" cx="437.9" cy="363.7" r="5.3"/><circle class="p" cx="358.5" cy="301.2" r="5.0"/><circle class="i" cx="486.9" cy="391.7" r="5.6"/><circle class="i" cx="427.6" cy="323.9" r="4.9"/><circle class="i" cx="396.2" cy="313.9" r="4.9"/><circle class="p" cx="206.3" cy="365.4" r="4.8"/><circle class="i" cx="407.8" cy="313.0" r="4.6"/><circle class="i" cx="458.5" cy="368.6" r="4.6"/><circle class="i" cx="461.5" cy="367.3" r="4.6"/><circle class="m" cx="540.1" cy="454.0" r="5.6"/><circle class="i" cx="480.0" cy="381.3" r="5.6"/><circle class="i" cx="381.5" cy="305.3" r="5.2"/><circle class="u" cx="448.3" cy="293.7" r="5.2"/><circle class="i" cx="392.2" cy="410.6" r="5.1"/><circle class="i" cx="504.3" cy="356.5" r="4.6"/><circle class="i" cx="379.4" cy="320.3" r="5.1"/><circle class="p" cx="237.4" cy="333.6" r="4.6"/><circle class="i" cx="202.6" cy="342.1" r="5.6"/><circle class="i" cx="479.6" cy="379.3" r="5.0"/><circle class="i" cx="510.7" cy="340.1" r="4.8"/><circle class="p" cx="212.1" cy="332.4" r="5.2"/><circle class="p" cx="211.3" cy="348.1" r="5.0"/><circle class="u" cx="443.8" cy="306.4" r="5.8"/><circle class="p" cx="255.5" cy="334.0" r="5.2"/><circle class="u" cx="490.0" cy="389.9" r="4.7"/><circle class="u" cx="513.4" cy="337.8" r="5.3"/><circle class="i" cx="361.6" cy="325.7" r="4.7"/><circle class="i" cx="234.9" cy="407.3" r="5.4"/><circle class="p" cx="359.9" cy="314.2" r="4.9"/><circle class="i" cx="369.9" cy="333.0" r="5.3"/><circle class="p" cx="226.2" cy="362.5" r="4.9"/><circle class="p" cx="253.6" cy="333.8" r="4.6"/><circle class="u" cx="384.4" cy="359.0" r="5.1"/><circle class="p" cx="543.8" cy="444.4" r="5.2"/><circle class="i" cx="468.1" cy="344.8" r="5.5"/><circle class="p" cx="238.3" cy="348.5" r="4.5"/><circle class="i" cx="498.6" cy="360.3" r="5.0"/><circle class="p" cx="341.9" cy="315.6" r="5.3"/><circle class="i" cx="387.5" cy="312.8" r="5.2"/><circle class="i" cx="517.2" cy="386.3" r="5.1"/><circle class="i" cx="490.4" cy="350.9" r="4.9"/><circle class="d" cx="449.0" cy="390.2" r="4.6"/><circle class="p" cx="555.1" cy="445.0" r="6.0"/><circle class="i" cx="484.2" cy="359.2" r="4.6"/><circle class="i" cx="287.1" cy="433.4" r="5.3"/><circle class="u" cx="387.6" cy="358.7" r="4.6"/><circle class="u" cx="489.7" cy="409.4" r="5.3"/><circle class="u" cx="404.6" cy="354.9" r="5.0"/><circle class="i" cx="490.5" cy="387.0" r="5.9"/><circle class="p" cx="489.5" cy="385.4" r="5.2"/><circle class="p" cx="535.8" cy="431.7" r="5.0"/><circle class="i" cx="462.0" cy="310.0" r="5.0"/><circle class="i" cx="499.8" cy="352.6" r="4.6"/><circle class="p" cx="549.7" cy="443.1" r="6.0"/><circle class="i" cx="445.5" cy="370.6" r="5.3"/><circle class="u" cx="361.2" cy="414.0" r="5.7"/><circle class="i" cx="407.4" cy="340.8" r="5.3"/><circle class="p" cx="209.4" cy="345.0" r="5.4"/><circle class="p" cx="206.3" cy="337.6" r="5.5"/><circle class="p" cx="347.5" cy="331.1" r="5.0"/><circle class="u" cx="418.3" cy="365.8" r="5.2"/><circle class="p" cx="376.6" cy="328.9" r="4.7"/><circle class="i" cx="238.0" cy="419.5" r="5.3"/><circle class="p" cx="230.7" cy="347.7" r="4.8"/><circle class="p" cx="349.9" cy="341.3" r="5.0"/><circle class="m" cx="400.0" cy="376.0" r="4.8"/><circle class="p" cx="353.8" cy="350.1" r="5.5"/><circle class="i" cx="235.5" cy="414.2" r="5.0"/><circle class="i" cx="520.1" cy="348.8" r="5.1"/><circle class="p" cx="485.5" cy="395.2" r="5.3"/><circle class="u" cx="413.4" cy="370.7" r="5.0"/><circle class="i" cx="462.4" cy="340.0" r="5.3"/><circle class="u" cx="414.1" cy="310.7" r="4.6"/><circle class="i" cx="441.2" cy="362.7" r="4.6"/><circle class="p" cx="363.3" cy="299.4" r="4.6"/><circle class="u" cx="415.6" cy="315.8" r="4.6"/><circle class="p" cx="229.4" cy="351.4" r="5.1"/><circle class="i" cx="410.2" cy="353.2" r="5.4"/><circle class="p" cx="245.8" cy="341.0" r="5.0"/><circle class="i" cx="404.9" cy="369.9" r="4.6"/><circle class="d" cx="338.2" cy="337.4" r="4.7"/><circle class="u" cx="504.9" cy="358.6" r="4.8"/><circle class="i" cx="408.9" cy="369.8" r="5.3"/><circle class="i" cx="448.3" cy="360.2" r="4.8"/><circle class="i" cx="366.8" cy="299.0" r="5.3"/><circle class="i" cx="458.7" cy="379.8" r="4.7"/><circle class="i" cx="439.9" cy="368.8" r="4.5"/><circle class="i" cx="510.4" cy="386.3" r="5.8"/><circle class="i" cx="517.1" cy="339.1" r="5.1"/><circle class="m" cx="387.2" cy="348.0" r="5.2"/><circle class="p" cx="341.5" cy="335.8" r="5.0"/><circle class="i" cx="356.2" cy="396.9" r="5.2"/><circle class="p" cx="232.0" cy="347.2" r="4.7"/><circle class="i" cx="449.7" cy="389.9" r="4.5"/><circle class="i" cx="544.4" cy="449.8" r="5.1"/><circle class="p" cx="493.2" cy="385.7" r="5.1"/><circle class="d" cx="488.1" cy="384.8" r="5.3"/><circle class="i" cx="485.0" cy="380.1" r="5.2"/><circle class="u" cx="459.2" cy="277.7" r="5.8"/><circle class="i" cx="380.4" cy="303.1" r="4.8"/><circle class="i" cx="391.6" cy="337.3" r="4.5"/><circle class="u" cx="198.6" cy="370.1" r="5.5"/><circle class="p" cx="214.5" cy="336.4" r="5.5"/><circle class="p" cx="508.7" cy="349.2" r="4.8"/><circle class="i" cx="219.9" cy="384.6" r="5.1"/><circle class="i" cx="371.0" cy="331.7" r="5.0"/><circle class="i" cx="373.3" cy="321.4" r="5.0"/><circle class="p" cx="171.3" cy="353.0" r="5.2"/><circle class="d" cx="460.2" cy="367.1" r="5.0"/><circle class="d" cx="215.6" cy="343.9" r="5.0"/><circle class="i" cx="495.6" cy="355.9" r="4.7"/><circle class="p" cx="197.9" cy="328.7" r="5.0"/><circle class="p" cx="217.2" cy="334.2" r="4.6"/><circle class="i" cx="530.6" cy="355.1" r="5.2"/><circle class="i" cx="202.5" cy="376.1" r="4.8"/><circle class="p" cx="209.3" cy="353.7" r="5.3"/><circle class="u" cx="408.6" cy="348.9" r="4.7"/><circle class="p" cx="226.7" cy="337.9" r="5.0"/><circle class="p" cx="509.7" cy="366.1" r="5.2"/><circle class="p" cx="338.7" cy="352.7" r="5.2"/><circle class="i" cx="403.1" cy="363.3" r="5.1"/><circle class="u" cx="392.0" cy="358.8" r="5.4"/><circle class="i" cx="488.0" cy="382.4" r="5.4"/><circle class="p" cx="236.3" cy="352.6" r="4.7"/><circle class="i" cx="447.8" cy="371.2" r="4.8"/><circle class="i" cx="406.3" cy="306.9" r="4.6"/><circle class="i" cx="388.2" cy="330.8" r="4.7"/><circle class="p" cx="349.7" cy="343.3" r="5.0"/><circle class="d" cx="253.9" cy="455.2" r="4.8"/><circle class="i" cx="407.4" cy="323.9" r="5.1"/><circle class="p" cx="172.3" cy="339.7" r="4.7"/><circle class="u" cx="360.9" cy="415.1" r="5.4"/><circle class="u" cx="195.0" cy="308.0" r="5.5"/><circle class="u" cx="190.0" cy="327.7" r="5.5"/><circle class="u" cx="408.5" cy="359.4" r="4.6"/><circle class="u" cx="513.7" cy="422.6" r="6.0"/><circle class="p" cx="486.6" cy="393.7" r="5.0"/><circle class="u" cx="489.3" cy="349.4" r="5.3"/><circle class="p" cx="544.4" cy="455.3" r="5.3"/><circle class="u" cx="400.7" cy="367.9" r="5.3"/><circle class="i" cx="510.9" cy="359.9" r="4.8"/><circle class="i" cx="424.6" cy="328.7" r="5.3"/><circle class="i" cx="548.0" cy="438.0" r="5.2"/><circle class="u" cx="418.6" cy="310.0" r="5.2"/><circle class="p" cx="182.1" cy="352.6" r="5.1"/><circle class="i" cx="521.3" cy="349.3" r="5.4"/><circle class="p" cx="350.9" cy="341.9" r="4.9"/><circle class="i" cx="507.6" cy="349.7" r="4.7"/><circle class="i" cx="482.2" cy="367.0" r="5.0"/><circle class="i" cx="486.7" cy="362.4" r="5.3"/><circle class="p" cx="174.1" cy="338.1" r="5.1"/><circle class="i" cx="362.5" cy="327.0" r="5.0"/><circle class="d" cx="467.4" cy="368.2" r="4.9"/><circle class="p" cx="211.7" cy="353.8" r="5.1"/><circle class="i" cx="461.2" cy="370.6" r="4.7"/><circle class="p" cx="173.3" cy="337.9" r="5.2"/><circle class="i" cx="482.2" cy="382.9" r="5.7"/><circle class="d" cx="511.1" cy="348.8" r="5.1"/><circle class="p" cx="510.2" cy="387.7" r="5.2"/><circle class="u" cx="386.1" cy="347.1" r="4.9"/><circle class="i" cx="460.4" cy="364.6" r="5.3"/><circle class="i" cx="480.9" cy="376.3" r="5.7"/><circle class="p" cx="377.5" cy="339.0" r="4.9"/><circle class="d" cx="446.9" cy="384.2" r="5.1"/><circle class="i" cx="520.0" cy="351.5" r="5.3"/><circle class="p" cx="379.5" cy="331.5" r="4.5"/><circle class="i" cx="209.1" cy="369.4" r="4.5"/><circle class="p" cx="511.3" cy="361.6" r="4.8"/><circle class="i" cx="506.7" cy="357.4" r="5.4"/><circle class="u" cx="503.6" cy="431.7" r="7.2"/><circle class="p" cx="177.0" cy="352.4" r="4.6"/><circle class="p" cx="344.0" cy="316.1" r="5.2"/><circle class="p" cx="485.7" cy="398.7" r="5.7"/><circle class="i" cx="458.4" cy="343.8" r="5.5"/><circle class="p" cx="478.1" cy="396.8" r="5.0"/><circle class="p" cx="230.8" cy="360.2" r="4.6"/><circle class="p" cx="345.9" cy="319.3" r="4.7"/><circle class="p" cx="230.9" cy="343.9" r="5.1"/><circle class="p" cx="230.5" cy="344.9" r="5.0"/><circle class="i" cx="485.7" cy="351.4" r="5.5"/><circle class="p" cx="337.9" cy="337.6" r="5.4"/><circle class="d" cx="392.2" cy="358.0" r="5.0"/><circle class="d" cx="445.0" cy="373.1" r="4.5"/><circle class="d" cx="453.4" cy="371.5" r="5.0"/><circle class="i" cx="384.0" cy="328.7" r="5.3"/><circle class="u" cx="455.4" cy="275.0" r="5.9"/><circle class="i" cx="349.6" cy="391.9" r="5.5"/><circle class="i" cx="357.7" cy="317.9" r="4.7"/><circle class="i" cx="404.1" cy="324.9" r="5.4"/><circle class="i" cx="484.5" cy="386.3" r="6.0"/><circle class="i" cx="504.0" cy="371.6" r="5.5"/><circle class="i" cx="498.0" cy="354.7" r="5.5"/><circle class="p" cx="357.1" cy="320.7" r="5.1"/><circle class="d" cx="512.2" cy="370.8" r="5.1"/><circle class="d" cx="226.8" cy="370.2" r="4.6"/><circle class="i" cx="394.6" cy="305.7" r="5.2"/><circle class="i" cx="392.2" cy="307.8" r="5.0"/><circle class="m" cx="536.9" cy="442.8" r="5.5"/><circle class="d" cx="532.9" cy="351.8" r="5.2"/><circle class="p" cx="355.3" cy="342.7" r="5.1"/><circle class="i" cx="504.4" cy="341.0" r="5.1"/><circle class="d" cx="338.6" cy="308.0" r="4.6"/><circle class="i" cx="374.0" cy="334.5" r="4.9"/><circle class="p" cx="184.0" cy="330.3" r="5.0"/><circle class="p" cx="229.0" cy="354.7" r="5.1"/><circle class="i" cx="454.2" cy="360.1" r="5.3"/><circle class="i" cx="368.1" cy="341.5" r="5.4"/><circle class="i" cx="416.0" cy="318.3" r="4.8"/><circle class="i" cx="481.9" cy="385.2" r="5.9"/><circle class="p" cx="126.5" cy="372.8" r="4.7"/><circle class="i" cx="489.8" cy="353.7" r="5.1"/><circle class="p" cx="231.4" cy="359.2" r="5.1"/><circle class="i" cx="249.9" cy="456.0" r="5.4"/><circle class="p" cx="516.9" cy="390.8" r="4.9"/><circle class="i" cx="511.9" cy="349.4" r="5.1"/><circle class="i" cx="407.8" cy="313.8" r="4.9"/><circle class="i" cx="500.6" cy="365.2" r="4.7"/><circle class="p" cx="338.2" cy="336.5" r="4.8"/><circle class="i" cx="453.5" cy="362.5" r="5.0"/><circle class="u" cx="415.0" cy="363.9" r="5.1"/><circle class="p" cx="214.5" cy="352.7" r="4.5"/><circle class="d" cx="351.0" cy="295.0" r="4.6"/><circle class="i" cx="406.6" cy="368.7" r="4.8"/><circle class="i" cx="403.9" cy="357.0" r="5.4"/><circle class="i" cx="410.7" cy="359.2" r="5.2"/><circle class="i" cx="511.9" cy="349.0" r="5.2"/><circle class="i" cx="461.0" cy="361.4" r="5.0"/><circle class="p" cx="358.7" cy="323.4" r="5.1"/><circle class="i" cx="342.7" cy="392.5" r="5.3"/><circle class="p" cx="485.0" cy="387.3" r="4.9"/><circle class="p" cx="239.8" cy="342.8" r="4.6"/><circle class="p" cx="206.5" cy="353.5" r="4.5"/><circle class="i" cx="509.0" cy="338.0" r="4.9"/><circle class="i" cx="417.7" cy="316.6" r="5.4"/><circle class="p" cx="533.7" cy="354.0" r="4.9"/><circle class="i" cx="454.7" cy="371.7" r="5.1"/><circle class="p" cx="248.7" cy="334.8" r="4.6"/><circle class="i" cx="372.3" cy="320.7" r="5.0"/><circle class="i" cx="453.2" cy="380.7" r="4.6"/><circle class="p" cx="220.4" cy="362.3" r="5.1"/><circle class="i" cx="499.3" cy="358.2" r="5.2"/><circle class="i" cx="487.2" cy="352.4" r="4.9"/><circle class="i" cx="489.8" cy="374.6" r="4.8"/><circle class="p" cx="486.3" cy="374.0" r="5.1"/><circle class="i" cx="232.7" cy="410.9" r="5.5"/><circle class="d" cx="199.0" cy="339.5" r="5.4"/><circle class="i" cx="259.0" cy="451.3" r="5.7"/><circle class="i" cx="418.7" cy="308.5" r="4.7"/><circle class="i" cx="243.0" cy="407.7" r="5.2"/><circle class="i" cx="347.9" cy="327.3" r="4.6"/><circle class="i" cx="383.0" cy="332.0" r="5.2"/><circle class="i" cx="484.8" cy="370.0" r="4.9"/><circle class="d" cx="393.0" cy="348.2" r="4.5"/><circle class="p" cx="172.6" cy="330.1" r="5.2"/><circle class="i" cx="344.7" cy="334.1" r="4.5"/><circle class="i" cx="411.5" cy="331.1" r="5.1"/><circle class="p" cx="214.6" cy="335.8" r="4.6"/><circle class="m" cx="243.5" cy="329.7" r="4.8"/><circle class="u" cx="498.2" cy="359.4" r="5.0"/><circle class="d" cx="174.2" cy="329.0" r="4.6"/><circle class="p" cx="264.3" cy="330.3" r="5.1"/><circle class="i" cx="439.3" cy="366.7" r="4.5"/><circle class="i" cx="238.9" cy="409.9" r="4.5"/><circle class="i" cx="417.8" cy="371.9" r="4.9"/><circle class="i" cx="449.0" cy="368.1" r="4.8"/><circle class="i" cx="353.1" cy="319.9" r="5.3"/><circle class="i" cx="462.5" cy="373.3" r="5.2"/><circle class="d" cx="528.1" cy="354.7" r="4.9"/><circle class="p" cx="177.9" cy="364.0" r="5.2"/><circle class="i" cx="509.7" cy="341.2" r="5.5"/><circle class="u" cx="421.4" cy="369.7" r="5.3"/><circle class="i" cx="382.7" cy="351.7" r="4.7"/><circle class="p" cx="209.9" cy="339.1" r="5.5"/><circle class="i" cx="371.5" cy="339.4" r="4.7"/><circle class="p" cx="241.5" cy="332.7" r="5.1"/><circle class="p" cx="489.9" cy="413.3" r="5.0"/><circle class="d" cx="484.5" cy="383.8" r="5.3"/><circle class="d" cx="387.3" cy="358.3" r="5.2"/><circle class="i" cx="491.5" cy="388.0" r="5.7"/><circle class="d" cx="523.0" cy="348.1" r="5.0"/><circle class="i" cx="505.1" cy="368.7" r="5.3"/><circle class="p" cx="222.6" cy="367.1" r="5.1"/><circle class="i" cx="517.6" cy="337.9" r="4.9"/><circle class="p" cx="221.3" cy="360.1" r="4.9"/><circle class="i" cx="513.0" cy="380.5" r="5.3"/><circle class="i" cx="368.3" cy="323.3" r="4.8"/><circle class="i" cx="247.7" cy="397.3" r="5.1"/><circle class="i" cx="361.1" cy="321.8" r="5.0"/><circle class="d" cx="213.3" cy="363.7" r="5.4"/><circle class="i" cx="341.3" cy="393.1" r="4.6"/><circle class="p" cx="486.6" cy="396.5" r="5.4"/><circle class="i" cx="480.3" cy="358.6" r="5.4"/><circle class="i" cx="505.7" cy="356.0" r="5.5"/><circle class="i" cx="382.9" cy="340.9" r="4.7"/><circle class="i" cx="386.0" cy="351.0" r="4.6"/><circle class="i" cx="386.1" cy="328.2" r="4.7"/><circle class="p" cx="206.9" cy="346.0" r="5.3"/><circle class="p" cx="335.2" cy="345.9" r="5.0"/><circle class="i" cx="404.6" cy="354.0" r="4.5"/><circle class="p" cx="210.3" cy="328.5" r="4.6"/><circle class="i" cx="406.2" cy="339.1" r="4.7"/><circle class="d" cx="224.5" cy="373.4" r="5.4"/><circle class="i" cx="486.3" cy="359.5" r="4.8"/><circle class="i" cx="447.3" cy="365.7" r="5.3"/><circle class="i" cx="451.3" cy="359.5" r="4.7"/><circle class="p" cx="206.0" cy="346.4" r="5.0"/><circle class="i" cx="484.0" cy="382.4" r="5.3"/><circle class="i" cx="451.9" cy="374.8" r="4.7"/><circle class="i" cx="512.6" cy="333.6" r="5.0"/><circle class="d" cx="196.2" cy="351.5" r="5.2"/><circle class="p" cx="359.8" cy="317.5" r="5.5"/><circle class="i" cx="380.9" cy="309.7" r="5.0"/><circle class="p" cx="382.0" cy="300.0" r="5.2"/><circle class="p" cx="213.8" cy="357.2" r="5.4"/><circle class="p" cx="175.2" cy="370.0" r="5.0"/><circle class="i" cx="512.7" cy="388.0" r="5.4"/><circle class="i" cx="393.3" cy="416.8" r="6.1"/><circle class="d" cx="521.3" cy="349.5" r="5.4"/><circle class="p" cx="219.2" cy="357.5" r="5.5"/><circle class="p" cx="176.4" cy="334.1" r="4.9"/><circle class="d" cx="534.4" cy="348.0" r="5.3"/><circle class="d" cx="261.0" cy="459.2" r="5.5"/><circle class="i" cx="497.8" cy="356.3" r="5.4"/><circle class="i" cx="362.0" cy="315.3" r="4.8"/><circle class="p" cx="511.5" cy="368.9" r="5.2"/><circle class="i" cx="404.4" cy="306.2" r="5.4"/><circle class="p" cx="552.5" cy="438.1" r="5.1"/><circle class="p" cx="356.6" cy="322.4" r="5.1"/><circle class="i" cx="469.8" cy="366.7" r="4.8"/><circle class="u" cx="416.0" cy="321.8" r="4.7"/><circle class="p" cx="368.3" cy="327.7" r="5.2"/><circle class="i" cx="437.3" cy="359.9" r="5.3"/><circle class="p" cx="357.5" cy="341.9" r="5.5"/><circle class="p" cx="510.6" cy="385.5" r="5.0"/><circle class="i" cx="503.0" cy="354.3" r="5.0"/><circle class="i" cx="453.3" cy="358.4" r="4.7"/><circle class="u" cx="414.5" cy="328.1" r="5.0"/><circle class="i" cx="458.0" cy="361.3" r="5.4"/><circle class="i" cx="491.3" cy="346.1" r="5.4"/><circle class="i" cx="353.4" cy="298.5" r="4.8"/><circle class="i" cx="431.2" cy="318.3" r="4.6"/><circle class="u" cx="493.7" cy="359.8" r="5.1"/><circle class="i" cx="551.0" cy="453.9" r="5.0"/><circle class="i" cx="431.0" cy="306.7" r="4.8"/><circle class="p" cx="511.6" cy="363.3" r="4.6"/><circle class="i" cx="397.6" cy="339.5" r="5.0"/><circle class="i" cx="503.0" cy="356.4" r="4.7"/><circle class="i" cx="490.0" cy="364.5" r="5.3"/><circle class="i" cx="393.2" cy="324.1" r="5.2"/><circle class="d" cx="209.0" cy="327.3" r="5.2"/><circle class="d" cx="211.1" cy="336.6" r="4.7"/><circle class="i" cx="461.0" cy="364.6" r="4.9"/><circle class="i" cx="387.1" cy="346.8" r="4.9"/><circle class="p" cx="510.6" cy="350.3" r="4.7"/><circle class="i" cx="459.6" cy="377.9" r="5.2"/><circle class="i" cx="429.3" cy="304.5" r="4.8"/><circle class="i" cx="482.9" cy="394.5" r="5.9"/><circle class="i" cx="390.0" cy="337.1" r="5.3"/><circle class="i" cx="400.1" cy="304.1" r="4.5"/><circle class="i" cx="452.7" cy="362.0" r="4.6"/><circle class="i" cx="505.0" cy="370.0" r="5.0"/><circle class="d" cx="510.7" cy="371.1" r="5.1"/><circle class="i" cx="443.3" cy="357.1" r="4.6"/><circle class="i" cx="481.6" cy="382.9" r="5.6"/><circle class="i" cx="447.3" cy="381.1" r="5.3"/><circle class="i" cx="451.3" cy="359.3" r="4.7"/><circle class="i" cx="276.9" cy="413.7" r="7.0"/><circle class="d" cx="485.2" cy="377.7" r="5.9"/><circle class="i" cx="451.1" cy="358.7" r="5.2"/><circle class="d" cx="534.6" cy="351.2" r="4.8"/><circle class="i" cx="207.5" cy="380.1" r="4.9"/><circle class="d" cx="186.1" cy="339.5" r="5.3"/><circle class="i" cx="465.1" cy="373.4" r="5.2"/><circle class="d" cx="208.5" cy="350.3" r="5.0"/><circle class="i" cx="438.7" cy="367.0" r="4.5"/><circle class="i" cx="440.4" cy="368.0" r="4.7"/><circle class="i" cx="400.8" cy="363.7" r="4.6"/><circle class="d" cx="445.9" cy="380.9" r="4.8"/><circle class="i" cx="388.4" cy="304.8" r="5.4"/><circle class="i" cx="422.0" cy="312.9" r="5.3"/><circle class="i" cx="453.9" cy="383.2" r="5.1"/><circle class="i" cx="445.0" cy="359.3" r="5.1"/><circle class="i" cx="500.9" cy="362.7" r="4.8"/><circle class="i" cx="486.1" cy="386.3" r="5.1"/><circle class="p" cx="482.0" cy="386.4" r="5.5"/><circle class="i" cx="385.3" cy="427.6" r="5.8"/><circle class="i" cx="389.2" cy="340.1" r="5.1"/><circle class="u" cx="493.9" cy="368.1" r="4.9"/><circle class="i" cx="416.3" cy="349.9" r="5.0"/><circle class="u" cx="405.1" cy="352.4" r="5.3"/><circle class="i" cx="393.7" cy="339.8" r="4.9"/><circle class="i" cx="495.1" cy="347.4" r="4.7"/><circle class="i" cx="467.9" cy="365.8" r="4.7"/><circle class="i" cx="391.0" cy="301.5" r="5.2"/><circle class="i" cx="448.6" cy="385.8" r="5.1"/><circle class="i" cx="399.6" cy="310.9" r="4.7"/><circle class="i" cx="492.6" cy="360.8" r="5.1"/><circle class="i" cx="348.2" cy="393.8" r="5.1"/><circle class="i" cx="370.1" cy="334.1" r="4.8"/><circle class="i" cx="420.9" cy="315.9" r="5.0"/><circle class="i" cx="491.8" cy="364.6" r="4.8"/><circle class="i" cx="508.9" cy="367.8" r="5.0"/><circle class="i" cx="463.8" cy="368.7" r="4.8"/><circle class="i" cx="397.9" cy="323.0" r="4.8"/><circle class="i" cx="181.2" cy="331.2" r="5.0"/><circle class="i" cx="446.3" cy="360.7" r="5.4"/><circle class="i" cx="501.5" cy="341.2" r="5.0"/><circle class="d" cx="510.4" cy="356.1" r="4.9"/><circle class="i" cx="388.8" cy="416.1" r="5.5"/><circle class="i" cx="458.4" cy="366.9" r="5.0"/><circle class="i" cx="506.3" cy="362.6" r="5.1"/><circle class="i" cx="502.2" cy="403.6" r="5.5"/><circle class="i" cx="486.2" cy="351.1" r="5.0"/><circle class="i" cx="247.6" cy="393.6" r="5.5"/><circle class="i" cx="506.9" cy="356.8" r="5.0"/><circle class="i" cx="483.7" cy="386.7" r="5.6"/><circle class="i" cx="390.3" cy="426.6" r="6.4"/><circle class="i" cx="513.5" cy="383.5" r="5.3"/><circle class="i" cx="397.4" cy="333.2" r="4.9"/><circle class="i" cx="395.8" cy="406.8" r="6.0"/><circle class="i" cx="378.0" cy="285.0" r="5.6"/><circle class="i" cx="441.4" cy="366.4" r="5.2"/><circle class="i" cx="456.0" cy="311.0" r="5.0"/><circle class="i" cx="503.7" cy="360.2" r="4.7"/><circle class="i" cx="409.7" cy="359.2" r="4.6"/><circle class="i" cx="491.1" cy="357.5" r="4.8"/><circle class="i" cx="498.6" cy="358.0" r="4.6"/><circle class="i" cx="249.1" cy="389.1" r="5.1"/><circle class="i" cx="414.5" cy="368.7" r="5.1"/><circle class="i" cx="241.6" cy="390.4" r="4.7"/><circle class="i" cx="500.1" cy="343.2" r="5.1"/><circle class="i" cx="499.4" cy="358.8" r="4.8"/><circle class="i" cx="499.0" cy="402.6" r="5.3"/><circle class="i" cx="546.4" cy="439.7" r="5.6"/><circle class="i" cx="348.7" cy="390.6" r="5.0"/><circle class="i" cx="518.1" cy="340.9" r="4.8"/><circle class="d" cx="485.4" cy="377.7" r="5.2"/><circle class="i" cx="377.5" cy="446.0" r="4.8"/><circle class="i" cx="497.7" cy="367.3" r="5.1"/><circle class="i" cx="204.5" cy="375.0" r="5.5"/><circle class="i" cx="240.8" cy="392.1" r="4.6"/><circle class="i" cx="490.3" cy="347.9" r="4.6"/><circle class="u" cx="408.6" cy="354.5" r="5.3"/><circle class="i" cx="413.5" cy="360.2" r="5.2"/><circle class="i" cx="347.0" cy="336.7" r="5.1"/><circle class="i" cx="469.7" cy="346.3" r="6.1"/><circle class="i" cx="415.4" cy="369.2" r="5.1"/><circle class="i" cx="513.5" cy="339.1" r="5.2"/><circle class="i" cx="388.4" cy="349.5" r="4.9"/><circle class="i" cx="495.9" cy="351.3" r="5.3"/><circle class="i" cx="414.4" cy="356.1" r="5.4"/><circle class="i" cx="401.1" cy="357.3" r="4.6"/><circle class="i" cx="515.9" cy="392.3" r="5.4"/><circle class="i" cx="497.2" cy="355.6" r="5.1"/><circle class="i" cx="199.3" cy="367.1" r="5.2"/><circle class="i" cx="284.4" cy="431.7" r="4.5"/><circle class="i" cx="489.1" cy="376.4" r="5.1"/><circle class="i" cx="408.2" cy="356.2" r="4.9"/><circle class="i" cx="407.8" cy="306.3" r="4.6"/><circle class="u" cx="417.1" cy="324.5" r="5.0"/><circle class="i" cx="414.9" cy="370.7" r="4.7"/><circle class="i" cx="493.3" cy="353.3" r="4.6"/><circle class="i" cx="512.1" cy="389.6" r="5.7"/><circle class="i" cx="401.7" cy="322.1" r="5.1"/><circle class="i" cx="502.8" cy="346.2" r="5.0"/><circle class="i" cx="453.9" cy="371.3" r="5.4"/><circle class="i" cx="503.8" cy="406.8" r="4.7"/><circle class="i" cx="450.0" cy="367.7" r="4.9"/><circle class="i" cx="418.6" cy="352.5" r="4.9"/><circle class="i" cx="354.5" cy="324.6" r="4.7"/><circle class="i" cx="510.5" cy="341.4" r="5.5"/><circle class="p" cx="511.3" cy="386.7" r="5.6"/><circle class="i" cx="495.5" cy="362.4" r="4.6"/><circle class="i" cx="502.2" cy="360.6" r="5.3"/><circle class="i" cx="379.5" cy="311.6" r="5.4"/><circle class="p" cx="511.1" cy="381.8" r="5.4"/><circle class="i" cx="492.6" cy="382.4" r="5.4"/><circle class="i" cx="414.7" cy="369.2" r="5.4"/><circle class="i" cx="468.8" cy="365.8" r="5.1"/><circle class="i" cx="502.9" cy="342.9" r="5.3"/><circle class="i" cx="463.4" cy="362.6" r="4.9"/><circle class="i" cx="501.2" cy="367.3" r="5.4"/><circle class="i" cx="413.3" cy="355.0" r="5.2"/><circle class="i" cx="484.7" cy="340.8" r="5.2"/><circle class="i" cx="406.5" cy="382.6" r="4.8"/><circle class="i" cx="491.1" cy="343.8" r="4.7"/></g>
</svg>
<div class="abs" style="left:33px;top:243.5px;width:159px;height:186.5px;background:rgba(255,255,255,.58)"></div>
<div class="abs" style="left:33px;top:305px;width:159px;height:2px;background:rgba(255,255,255,.55)"></div>
<div class="abs" style="left:33px;top:366px;width:159px;height:2px;background:rgba(255,255,255,.55)"></div>
<div class="kv" style="top:256.5px">13.21bn</div><div class="kl" style="top:287.5px">GHG emissions (tons)</div>
<div class="kv" style="top:316.5px">26.10K</div><div class="kl" style="top:347.5px">#&nbsp;of facilities/assets</div>
<div class="kv" style="top:377px">6,503</div><div class="kl" style="top:408px">#&nbsp;of companies</div>

<svg class="abs" style="left:586px;top:247px" width="40" height="94" viewBox="586 247 40 94">
<circle cx="605.8" cy="267" r="16.8" fill="#fff" opacity=".75"/><circle cx="605.8" cy="267" r="15.2" fill="#fff" stroke="#2a2a2a" stroke-width="1.6"/>
<path d="M597.3 267h17M605.8 258.5v17" stroke="#2a2a2a" stroke-width="1.7"/>
<circle cx="605.8" cy="321.2" r="17" fill="#fff" opacity=".7"/><circle cx="605.8" cy="321.2" r="15.3" fill="#fdfdfd" stroke="#c6c6c6" stroke-width="1.5"/>
<path d="M597.8 321.2h16" stroke="#bdbdbd" stroke-width="1.7"/>
</svg>
<div class="abs" style="left:38.5px;top:465px"><svg style="display:block" width="9.5" height="9.5" viewBox="0 0 11 11"><rect width="5" height="5" fill="#f25022"/><rect x="6" width="5" height="5" fill="#7fba00"/><rect y="6" width="5" height="5" fill="#00a4ef"/><rect x="6" y="6" width="5" height="5" fill="#ffb900"/></svg></div>
<div class="t" style="left:51px;top:466px;font-size:8px;color:#7a7a7a;letter-spacing:-.1px">Microsoft <i>Bing</i></div>
<div class="t" style="left:342px;top:467.5px;font-size:8.72px;color:#222">© 2025 TomTom, © 2025 Microsoft Corporation, <span style="color:#3b5bb5;text-decoration:underline">© OpenStreetMap</span>&nbsp; <span style="color:#3b5bb5;text-decoration:underline;margin-left:2px">Terms</span></div>
<div class="abs" style="left:655px;top:313px;width:10px;height:10px;border-radius:5px;background:#2fb562"></div><div class="t" style="left:666.5px;top:312px;font-size:11.6px;color:#222">Upstream</div><div class="abs" style="left:655px;top:336.1px;width:10px;height:10px;border-radius:5px;background:#62d0f4"></div><div class="t" style="left:666.5px;top:335.1px;font-size:11.6px;color:#222">Midstream</div><div class="abs" style="left:655px;top:359.2px;width:10px;height:10px;border-radius:5px;background:#f5921e"></div><div class="t" style="left:666.5px;top:358.2px;font-size:11.6px;color:#222">Downstream</div><div class="abs" style="left:655px;top:382.3px;width:10px;height:10px;border-radius:5px;background:#d9a3cf"></div><div class="t" style="left:666.5px;top:381.3px;font-size:11.6px;color:#222">Power</div><div class="abs" style="left:655px;top:405.4px;width:10px;height:10px;border-radius:5px;background:#00736d"></div><div class="t" style="left:666.5px;top:404.4px;font-size:11.6px;color:#222">Industrial</div>
  <div class="shead" style="left:761px;top:222px;width:476px">GHG emissions by region &amp; sector (tons)</div><svg class="abs" style="left:761px;top:244px" width="476" height="158" viewBox="761 244 476 158"><defs><filter id="pb"><feGaussianBlur stdDeviation="0.35"/></filter></defs><g filter="url(#pb)"><path d="M999 320.8L999.00 259.80A61 61 0 0 1 1052.61 349.91Z" fill="#0aaf4b"/><path d="M999 320.8L1052.61 349.91A61 61 0 0 1 1002.51 381.70Z" fill="#b1b1b3"/><path d="M999 320.8L1002.51 381.70A61 61 0 0 1 971.12 375.05Z" fill="#04938f"/><path d="M999 320.8L971.12 375.05A61 61 0 0 1 961.87 369.19Z" fill="#8cc63f"/><path d="M999 320.8L961.87 369.19A61 61 0 0 1 953.88 361.85Z" fill="#29abe2"/><path d="M999 320.8L953.88 361.85A61 61 0 0 1 947.55 353.58Z" fill="#f7931e"/><path d="M999 320.8L947.55 353.58A61 61 0 0 1 943.27 345.61Z" fill="#93278f"/><path d="M999 320.8L943.27 345.61A61 61 0 0 1 940.51 338.12Z" fill="#f9bfc0"/><path d="M999 320.8L940.51 338.12A61 61 0 0 1 938.87 331.08Z" fill="#ed1e5a"/><path d="M999 320.8L938.87 331.08A61 61 0 0 1 938.13 324.84Z" fill="#b3e5fc"/><path d="M999 320.8L938.13 324.84A61 61 0 0 1 938.02 319.10Z" fill="#0071bc"/><path d="M999 320.8L938.02 319.10A61 61 0 0 1 938.44 313.47Z" fill="#fcd116"/><path d="M999 320.8L938.44 313.47A61 61 0 0 1 939.25 308.53Z" fill="#555759"/><path d="M999 320.8L939.25 308.53A61 61 0 0 1 940.39 303.88Z" fill="#8fbcc4"/><path d="M999 320.8L940.39 303.88A61 61 0 0 1 941.83 299.54Z" fill="#d4421e"/><path d="M999 320.8L941.83 299.54A61 61 0 0 1 943.58 295.31Z" fill="#b5d99c"/><path d="M999 320.8L943.58 295.31A61 61 0 0 1 945.55 291.41Z" fill="#7a6a8a"/><path d="M999 320.8L945.55 291.41A61 61 0 0 1 947.78 287.67Z" fill="#10305a"/><path d="M999 320.8L947.78 287.67A61 61 0 0 1 950.16 284.26Z" fill="#fbe38e"/><path d="M999 320.8L950.16 284.26A61 61 0 0 1 952.62 281.18Z" fill="#0b5e3c"/><path d="M999 320.8L952.62 281.18A61 61 0 0 1 955.12 278.43Z" fill="#f9b266"/><path d="M999 320.8L955.12 278.43A61 61 0 0 1 956.89 276.66Z" fill="#4b1e5a"/><path d="M999 320.8L956.89 276.66A61 61 0 0 1 958.69 275.02Z" fill="#a89a3c"/><path d="M999 320.8L958.69 275.02A61 61 0 0 1 960.50 273.49Z" fill="#5b8fb0"/><path d="M999 320.8L960.50 273.49A61 61 0 0 1 962.31 272.06Z" fill="#7d7d7d"/><path d="M999 320.8L962.31 272.06A61 61 0 0 1 964.13 270.75Z" fill="#2c6e8f"/><path d="M999 320.8L964.13 270.75A61 61 0 0 1 965.95 269.53Z" fill="#b06a4a"/><path d="M999 320.8L965.95 269.53A61 61 0 0 1 967.75 268.41Z" fill="#36507a"/><path d="M999 320.8L967.75 268.41A61 61 0 0 1 969.53 267.39Z" fill="#9aa7b0"/><path d="M999 320.8L969.53 267.39A61 61 0 0 1 971.29 266.46Z" fill="#6b4c3a"/><path d="M999 320.8L971.29 266.46A61 61 0 0 1 973.02 265.61Z" fill="#3f8f8a"/><path d="M999 320.8L973.02 265.61A61 61 0 0 1 974.73 264.84Z" fill="#c9a227"/><path d="M999 320.8L974.73 264.84A61 61 0 0 1 976.39 264.15Z" fill="#56606b"/><path d="M999 320.8L976.39 264.15A61 61 0 0 1 978.01 263.53Z" fill="#8a3b5c"/><path d="M999 320.8L978.01 263.53A61 61 0 0 1 979.58 262.97Z" fill="#2a4d69"/><path d="M999 320.8L979.58 262.97A61 61 0 0 1 981.12 262.48Z" fill="#a0a0a0"/><path d="M999 320.8L981.12 262.48A61 61 0 0 1 982.61 262.04Z" fill="#1f3a5f"/><path d="M999 320.8L982.61 262.04A61 61 0 0 1 984.04 261.66Z" fill="#7b5a2a"/><path d="M999 320.8L984.04 261.66A61 61 0 0 1 985.42 261.33Z" fill="#4a6fa5"/><path d="M999 320.8L985.42 261.33A61 61 0 0 1 986.74 261.04Z" fill="#333c44"/><path d="M999 320.8L986.74 261.04A61 61 0 0 1 988.02 260.80Z" fill="#b8860b"/><path d="M999 320.8L988.02 260.80A61 61 0 0 1 989.23 260.59Z" fill="#5a5a8a"/><path d="M999 320.8L989.23 260.59A61 61 0 0 1 990.38 260.41Z" fill="#888"/><path d="M999 320.8L990.38 260.41A61 61 0 0 1 991.48 260.27Z" fill="#2b2b55"/><path d="M999 320.8L991.48 260.27A61 61 0 0 1 992.51 260.15Z" fill="#d8d8d8"/><path d="M999 320.8L992.51 260.15A61 61 0 0 1 993.48 260.05Z" fill="#c8b400"/><path d="M999 320.8L993.48 260.05A61 61 0 0 1 994.39 259.97Z" fill="#e8e8e8"/><path d="M999 320.8L994.39 259.97A61 61 0 0 1 995.23 259.92Z" fill="#4466aa"/><path d="M999 320.8L995.23 259.92A61 61 0 0 1 996.02 259.87Z" fill="#f0f0f0"/><path d="M999 320.8L996.02 259.87A61 61 0 0 1 996.74 259.84Z" fill="#d0c040"/><path d="M999 320.8L996.74 259.84A61 61 0 0 1 997.40 259.82Z" fill="#ddd"/><path d="M999 320.8L997.40 259.82A61 61 0 0 1 998.00 259.81Z" fill="#6a7fb5"/><path d="M999 320.8L998.00 259.81A61 61 0 0 1 998.53 259.80Z" fill="#eee"/><path d="M999 320.8L998.53 259.80A61 61 0 0 1 999.00 259.80Z" fill="#a0a000"/></g><path d="M1030.5 268L1036.5 262L1044 262" fill="none" stroke="#8a8a8a" stroke-width="1.1"/><path d="M1034 374.5L1039.5 379L1047 379" fill="none" stroke="#8a8a8a" stroke-width="1.1"/><path d="M977 253L989.5 253L990.3 259" fill="none" stroke="#8a8a8a" stroke-width="1.1"/><path d="M945.5 266.8L957 266.8L961.5 272" fill="none" stroke="#8a8a8a" stroke-width="1.1"/><path d="M932 280L944 280L949 283.3" fill="none" stroke="#8a8a8a" stroke-width="1.1"/><path d="M924 292.8L938 292.8L942.5 295.3" fill="none" stroke="#8a8a8a" stroke-width="1.1"/><path d="M919.5 307L939.5 307" fill="none" stroke="#8a8a8a" stroke-width="1.1"/><path d="M918 321.4L938.5 321.4" fill="none" stroke="#8a8a8a" stroke-width="1.1"/><path d="M919.5 336L933 336L938.6 335" fill="none" stroke="#8a8a8a" stroke-width="1.1"/><path d="M926 353.7L938 353.7L944.8 351.2" fill="none" stroke="#8a8a8a" stroke-width="1.1"/><path d="M938.5 369.9L950 369.9L956 365.5" fill="none" stroke="#8a8a8a" stroke-width="1.1"/><path d="M971 387.3L985 387.3L987 381" fill="none" stroke="#8a8a8a" stroke-width="1.1"/><g class="pl"><text x="1048" y="265">China (mainland) 4.30bn</text><text x="1051" y="382">United States 2.08bn</text><text x="973.6" y="256.9" text-anchor="end">Angola 0.02bn</text><text x="942.5" y="270.7" text-anchor="end">Spain 0.09bn</text><text x="928.9" y="283.9" text-anchor="end">Brazil 0.15bn</text><text x="921" y="296.7" text-anchor="end">Thailand 0.16bn</text><text x="916.5" y="310.9" text-anchor="end">Canada 0.18bn</text><text x="914.8" y="325.3" text-anchor="end">Taiwan 0.21bn</text><text x="916.5" y="339.9" text-anchor="end">Vietnam 0.25bn</text><text x="923" y="357.6" text-anchor="end">Australia 0.30bn</text><text x="935.5" y="373.8" text-anchor="end">Indonesia 0.35bn</text><text x="968.2" y="391.2" text-anchor="end">India 1.13bn</text></g></svg><div class="abs" style="left:761px;top:402px;width:476px;height:1px;background:#b8b8b8"></div><div class="abs" style="left:799.7px;top:458.3px;width:56px;height:5px;background:#2fb562"></div><div class="bv" style="left:777.7px;top:437.3px">1.1bn</div><div class="bl" style="left:777.7px;top:468px">Upstream</div><div class="abs" style="left:884.6px;top:462.2px;width:56px;height:1.1px;background:#7fd8f7"></div><div class="bv" style="left:862.6px;top:441.5px">0.3bn</div><div class="bl" style="left:862.6px;top:468px">Midstream</div><div class="abs" style="left:969.5px;top:459px;width:56px;height:4.3px;background:#f5921e"></div><div class="bv" style="left:947.5px;top:438.5px">0.9bn</div><div class="bl" style="left:947.5px;top:468px">Downstream</div><div class="abs" style="left:1054.3px;top:443px;width:56px;height:20.3px;background:#d9a3cf"></div><div class="bv" style="left:1032.3px;top:422.8px">4.4bn</div><div class="bl" style="left:1032.3px;top:468px">Power</div><div class="abs" style="left:1139.2px;top:433.5px;width:56px;height:29.8px;background:#00736d"></div><div class="bv" style="left:1117.2px;top:415px">6.5bn</div><div class="bl" style="left:1117.2px;top:468px">Industrial</div>
  <div class="shead" style="left:34px;top:506px;width:1208px">GHG emissions and intensity by oil &amp; gas company (drill down to facility)</div><div class="tg" style="left:766px;width:77px;background:#fff">Oil/Gas</div><div class="tg" style="left:843px;width:76px;background:#e6e6e3">Power</div><div class="abs" style="left:766px;top:507px;width:153px;height:15.5px;border:1px solid #c9c9c9"></div><div class="abs" style="left:843px;top:507px;width:1px;height:15.5px;background:#c9c9c9"></div><div class="abs" style="left:95px;top:541px;width:984px;height:1px;background:#cfd8d8"></div><div class="abs" style="left:95px;top:604px;width:984px;height:1px;background:#cfd8d8"></div><div class="t ax" style="left:58px;top:535px">0.4bn</div><div class="t ax" style="left:58px;top:598.5px">0.2bn</div><div class="t ax" style="left:1089px;top:562.5px">100</div><div class="t ax" style="left:1089px;top:612px">50</div><div class="abs" style="left:1073px;top:568.5px;width:6px;height:1px;background:#cfd8d8"></div><div class="abs" style="left:1073px;top:618px;width:6px;height:1px;background:#cfd8d8"></div><div class="t rot" style="left:38.2px;top:659.5px">GHG emissions (tons)</div><div class="t rot" style="left:1112.7px;top:646px">intensity (kg/boe)</div><div class="abs" style="left:113.5px;top:536.5px;width:13.5px;height:110px;background:#00736d"></div><div class="abs" style="left:133px;top:617.5px;width:13.5px;height:30px;background:#00736d"></div><div class="abs" style="left:152.5px;top:633.5px;width:13.5px;height:2.5px;background:#00736d"></div><div class="abs" style="left:152.5px;top:636px;width:13.5px;height:10px;background:#f5921e"></div><div class="abs" style="left:172px;top:634px;width:13.5px;height:10px;background:#00736d"></div><div class="abs" style="left:191.5px;top:637.5px;width:13.5px;height:5px;background:#f5921e"></div><div class="abs" style="left:211px;top:638.5px;width:13.5px;height:5px;background:#f5921e"></div><div class="abs" style="left:250px;top:639.3px;width:13.5px;height:3px;background:#00736d"></div><svg class="abs" style="left:0;top:500px" width="1280" height="145" viewBox="0 500 1280 145"><circle cx="198" cy="626.5" r="5" fill="#000"/><circle cx="217.5" cy="633.5" r="5" fill="#000"/><circle cx="237" cy="637" r="5" fill="#000"/><circle cx="256.5" cy="560" r="5" fill="#000"/><circle cx="315" cy="613" r="5" fill="#000"/><circle cx="354" cy="601" r="5" fill="#000"/><circle cx="529" cy="634" r="5" fill="#000"/><circle cx="568" cy="632.5" r="5" fill="#000"/><circle cx="666" cy="634.5" r="5" fill="#000"/><circle cx="724" cy="633" r="5" fill="#000"/><circle cx="763" cy="634.5" r="5" fill="#000"/><circle cx="938" cy="602.5" r="5" fill="#000"/><circle cx="958" cy="625" r="5" fill="#000"/><circle cx="977.5" cy="627" r="5" fill="#000"/><circle cx="997" cy="561" r="5" fill="#000"/><circle cx="1036" cy="630.5" r="5" fill="#000"/><circle cx="1132" cy="591.1" r="4.6" fill="#2fb562"/><circle cx="1132" cy="614.4" r="4.6" fill="#62d0f4"/><circle cx="1132" cy="637.7" r="4.6" fill="#f5921e"/></svg><div class="t" style="left:1139px;top:584.3px;font-size:11.7px;color:#222">Upstream</div><div class="t" style="left:1139px;top:607.6px;font-size:11.7px;color:#222">Midstream</div><div class="t" style="left:1139px;top:630.9px;font-size:11.7px;color:#222">Downstream</div><div class="abs" style="left:1266.2px;top:86px;width:6.8px;height:436px;background:#c8c8c8;border-radius:0 0 3px 3px"></div><svg class="abs" style="left:1210px;top:92px" width="30" height="30" viewBox="0 0 30 30"><path d="M11.5 4.5L5.5 10.5l6.5 5" fill="none" stroke="#6e6e6e" stroke-width="1.6" stroke-linecap="round" stroke-linejoin="round"/><path d="M6 10.5h9.5a8 8 0 0 1 0 16h-2" fill="none" stroke="#6e6e6e" stroke-width="1.6" stroke-linecap="round"/></svg>
</div></div>
</body>
</html>
